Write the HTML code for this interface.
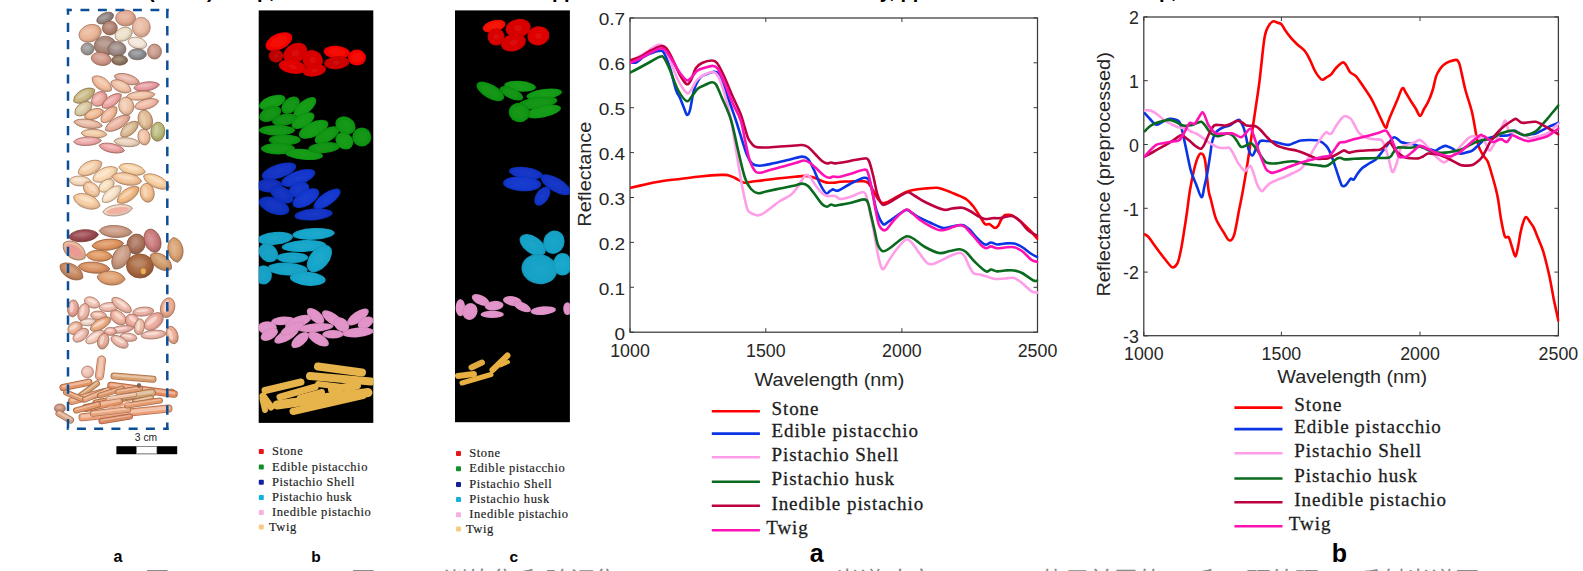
<!DOCTYPE html>
<html lang="zh"><head><meta charset="utf-8"><title>Figure</title>
<style>
html,body{margin:0;padding:0;background:#fff;}
body{width:1583px;height:571px;overflow:hidden;position:relative;}
svg{display:block;position:absolute;left:0;top:0;}
</style></head><body>
<svg width="1583" height="571" viewBox="0 0 1583 571">
<defs>
<filter id="blur1" x="-5%" y="-5%" width="110%" height="110%"><feGaussianBlur stdDeviation="0.45"/></filter>
<radialGradient id="g0" cx="0.45" cy="0.4" r="0.62"><stop offset="0" stop-color="#a79f9e"/><stop offset="0.6" stop-color="#8e8482"/><stop offset="1" stop-color="#726a68"/></radialGradient>
<radialGradient id="g1" cx="0.45" cy="0.4" r="0.62"><stop offset="0" stop-color="#e7bba8"/><stop offset="0.6" stop-color="#e0a890"/><stop offset="1" stop-color="#b38673"/></radialGradient>
<radialGradient id="g2" cx="0.45" cy="0.4" r="0.62"><stop offset="0" stop-color="#c19c8f"/><stop offset="0.6" stop-color="#b08070"/><stop offset="1" stop-color="#8d665a"/></radialGradient>
<radialGradient id="g3" cx="0.45" cy="0.4" r="0.62"><stop offset="0" stop-color="#efc4ad"/><stop offset="0.6" stop-color="#eab496"/><stop offset="1" stop-color="#bb9078"/></radialGradient>
<radialGradient id="g4" cx="0.45" cy="0.4" r="0.62"><stop offset="0" stop-color="#edc8b5"/><stop offset="0.6" stop-color="#e8b8a0"/><stop offset="1" stop-color="#ba9380"/></radialGradient>
<radialGradient id="g5" cx="0.45" cy="0.4" r="0.62"><stop offset="0" stop-color="#f0e7d4"/><stop offset="0.6" stop-color="#ece0c8"/><stop offset="1" stop-color="#bdb3a0"/></radialGradient>
<radialGradient id="g6" cx="0.45" cy="0.4" r="0.62"><stop offset="0" stop-color="#f6ece1"/><stop offset="0.6" stop-color="#f4e6d8"/><stop offset="1" stop-color="#c3b8ad"/></radialGradient>
<radialGradient id="g7" cx="0.45" cy="0.4" r="0.62"><stop offset="0" stop-color="#bba197"/><stop offset="0.6" stop-color="#a8877a"/><stop offset="1" stop-color="#866c62"/></radialGradient>
<radialGradient id="g8" cx="0.45" cy="0.4" r="0.62"><stop offset="0" stop-color="#b2a4a1"/><stop offset="0.6" stop-color="#9c8a86"/><stop offset="1" stop-color="#7d6e6b"/></radialGradient>
<radialGradient id="g9" cx="0.45" cy="0.4" r="0.62"><stop offset="0" stop-color="#b0afad"/><stop offset="0.6" stop-color="#9a9896"/><stop offset="1" stop-color="#7b7a78"/></radialGradient>
<radialGradient id="g10" cx="0.45" cy="0.4" r="0.62"><stop offset="0" stop-color="#daafa2"/><stop offset="0.6" stop-color="#d09888"/><stop offset="1" stop-color="#a67a6d"/></radialGradient>
<radialGradient id="g11" cx="0.45" cy="0.4" r="0.62"><stop offset="0" stop-color="#a79383"/><stop offset="0.6" stop-color="#8e7460"/><stop offset="1" stop-color="#725d4d"/></radialGradient>
<radialGradient id="g12" cx="0.45" cy="0.4" r="0.62"><stop offset="0" stop-color="#a4a5a8"/><stop offset="0.6" stop-color="#8a8c90"/><stop offset="1" stop-color="#6e7073"/></radialGradient>
<radialGradient id="g13" cx="0.45" cy="0.4" r="0.62"><stop offset="0" stop-color="#d4afa2"/><stop offset="0.6" stop-color="#c89888"/><stop offset="1" stop-color="#a07a6d"/></radialGradient>
<radialGradient id="g14" cx="0.45" cy="0.4" r="0.62"><stop offset="0" stop-color="#f3cbb2"/><stop offset="0.6" stop-color="#f0bc9c"/><stop offset="1" stop-color="#c0967d"/></radialGradient>
<radialGradient id="g15" cx="0.45" cy="0.4" r="0.62"><stop offset="0" stop-color="#edc1b5"/><stop offset="0.6" stop-color="#e8b0a0"/><stop offset="1" stop-color="#ba8d80"/></radialGradient>
<radialGradient id="g16" cx="0.45" cy="0.4" r="0.62"><stop offset="0" stop-color="#f3ceb8"/><stop offset="0.6" stop-color="#f0c0a4"/><stop offset="1" stop-color="#c09a83"/></radialGradient>
<radialGradient id="g17" cx="0.45" cy="0.4" r="0.62"><stop offset="0" stop-color="#edb0b5"/><stop offset="0.6" stop-color="#e89aa0"/><stop offset="1" stop-color="#ba7b80"/></radialGradient>
<radialGradient id="g18" cx="0.45" cy="0.4" r="0.62"><stop offset="0" stop-color="#d4c89c"/><stop offset="0.6" stop-color="#c8b880"/><stop offset="1" stop-color="#a09366"/></radialGradient>
<radialGradient id="g19" cx="0.45" cy="0.4" r="0.62"><stop offset="0" stop-color="#f0bbb5"/><stop offset="0.6" stop-color="#eca8a0"/><stop offset="1" stop-color="#bd8680"/></radialGradient>
<radialGradient id="g20" cx="0.45" cy="0.4" r="0.62"><stop offset="0" stop-color="#f0b8b5"/><stop offset="0.6" stop-color="#eca4a0"/><stop offset="1" stop-color="#bd8380"/></radialGradient>
<radialGradient id="g21" cx="0.45" cy="0.4" r="0.62"><stop offset="0" stop-color="#f3ceb5"/><stop offset="0.6" stop-color="#f0c0a0"/><stop offset="1" stop-color="#c09a80"/></radialGradient>
<radialGradient id="g22" cx="0.45" cy="0.4" r="0.62"><stop offset="0" stop-color="#f3d1bb"/><stop offset="0.6" stop-color="#f0c4a8"/><stop offset="1" stop-color="#c09d86"/></radialGradient>
<radialGradient id="g23" cx="0.45" cy="0.4" r="0.62"><stop offset="0" stop-color="#f3c8b8"/><stop offset="0.6" stop-color="#f0b8a4"/><stop offset="1" stop-color="#c09383"/></radialGradient>
<radialGradient id="g24" cx="0.45" cy="0.4" r="0.62"><stop offset="0" stop-color="#e1d4b5"/><stop offset="0.6" stop-color="#d8c8a0"/><stop offset="1" stop-color="#ada080"/></radialGradient>
<radialGradient id="g25" cx="0.45" cy="0.4" r="0.62"><stop offset="0" stop-color="#f3c8a8"/><stop offset="0.6" stop-color="#f0b890"/><stop offset="1" stop-color="#c09373"/></radialGradient>
<radialGradient id="g26" cx="0.45" cy="0.4" r="0.62"><stop offset="0" stop-color="#f3c8af"/><stop offset="0.6" stop-color="#f0b898"/><stop offset="1" stop-color="#c0937a"/></radialGradient>
<radialGradient id="g27" cx="0.45" cy="0.4" r="0.62"><stop offset="0" stop-color="#edc1b2"/><stop offset="0.6" stop-color="#e8b09c"/><stop offset="1" stop-color="#ba8d7d"/></radialGradient>
<radialGradient id="g28" cx="0.45" cy="0.4" r="0.62"><stop offset="0" stop-color="#e7c8a8"/><stop offset="0.6" stop-color="#e0b890"/><stop offset="1" stop-color="#b39373"/></radialGradient>
<radialGradient id="g29" cx="0.45" cy="0.4" r="0.62"><stop offset="0" stop-color="#e1c8a8"/><stop offset="0.6" stop-color="#d8b890"/><stop offset="1" stop-color="#ad9373"/></radialGradient>
<radialGradient id="g30" cx="0.45" cy="0.4" r="0.62"><stop offset="0" stop-color="#f3d4b5"/><stop offset="0.6" stop-color="#f0c8a0"/><stop offset="1" stop-color="#c0a080"/></radialGradient>
<radialGradient id="g31" cx="0.45" cy="0.4" r="0.62"><stop offset="0" stop-color="#c8c896"/><stop offset="0.6" stop-color="#b8b878"/><stop offset="1" stop-color="#939360"/></radialGradient>
<radialGradient id="g32" cx="0.45" cy="0.4" r="0.62"><stop offset="0" stop-color="#f0bbbb"/><stop offset="0.6" stop-color="#eca8a8"/><stop offset="1" stop-color="#bd8686"/></radialGradient>
<radialGradient id="g33" cx="0.45" cy="0.4" r="0.62"><stop offset="0" stop-color="#eddac8"/><stop offset="0.6" stop-color="#e8d0b8"/><stop offset="1" stop-color="#baa693"/></radialGradient>
<radialGradient id="g34" cx="0.45" cy="0.4" r="0.62"><stop offset="0" stop-color="#f0b5b5"/><stop offset="0.6" stop-color="#eca0a0"/><stop offset="1" stop-color="#bd8080"/></radialGradient>
<radialGradient id="g35" cx="0.45" cy="0.4" r="0.62"><stop offset="0" stop-color="#f6d7b8"/><stop offset="0.6" stop-color="#f4cca4"/><stop offset="1" stop-color="#c3a383"/></radialGradient>
<radialGradient id="g36" cx="0.45" cy="0.4" r="0.62"><stop offset="0" stop-color="#fae1c1"/><stop offset="0.6" stop-color="#f8d8b0"/><stop offset="1" stop-color="#c6ad8d"/></radialGradient>
<radialGradient id="g37" cx="0.45" cy="0.4" r="0.62"><stop offset="0" stop-color="#f8dab5"/><stop offset="0.6" stop-color="#f6cfa0"/><stop offset="1" stop-color="#c5a680"/></radialGradient>
<radialGradient id="g38" cx="0.45" cy="0.4" r="0.62"><stop offset="0" stop-color="#f6e1c8"/><stop offset="0.6" stop-color="#f4d8b8"/><stop offset="1" stop-color="#c3ad93"/></radialGradient>
<radialGradient id="g39" cx="0.45" cy="0.4" r="0.62"><stop offset="0" stop-color="#f6d1af"/><stop offset="0.6" stop-color="#f4c498"/><stop offset="1" stop-color="#c39d7a"/></radialGradient>
<radialGradient id="g40" cx="0.45" cy="0.4" r="0.62"><stop offset="0" stop-color="#f8d7b2"/><stop offset="0.6" stop-color="#f6cc9c"/><stop offset="1" stop-color="#c5a37d"/></radialGradient>
<radialGradient id="g41" cx="0.45" cy="0.4" r="0.62"><stop offset="0" stop-color="#f6d4b5"/><stop offset="0.6" stop-color="#f4c8a0"/><stop offset="1" stop-color="#c3a080"/></radialGradient>
<radialGradient id="g42" cx="0.45" cy="0.4" r="0.62"><stop offset="0" stop-color="#f8e4c8"/><stop offset="0.6" stop-color="#f6dcb8"/><stop offset="1" stop-color="#c5b093"/></radialGradient>
<radialGradient id="g43" cx="0.45" cy="0.4" r="0.62"><stop offset="0" stop-color="#f8e7d1"/><stop offset="0.6" stop-color="#f6e0c4"/><stop offset="1" stop-color="#c5b39d"/></radialGradient>
<radialGradient id="g44" cx="0.45" cy="0.4" r="0.62"><stop offset="0" stop-color="#f3c89c"/><stop offset="0.6" stop-color="#f0b880"/><stop offset="1" stop-color="#c09366"/></radialGradient>
<radialGradient id="g45" cx="0.45" cy="0.4" r="0.62"><stop offset="0" stop-color="#f5cea8"/><stop offset="0.6" stop-color="#f2c090"/><stop offset="1" stop-color="#c29a73"/></radialGradient>
<radialGradient id="g46" cx="0.45" cy="0.4" r="0.62"><stop offset="0" stop-color="#f8d7b5"/><stop offset="0.6" stop-color="#f6cca0"/><stop offset="1" stop-color="#c5a380"/></radialGradient>
<radialGradient id="g47" cx="0.45" cy="0.4" r="0.62"><stop offset="0" stop-color="#f3e4d4"/><stop offset="0.6" stop-color="#f0dcc8"/><stop offset="1" stop-color="#c0b0a0"/></radialGradient>
<radialGradient id="g48" cx="0.45" cy="0.4" r="0.62"><stop offset="0" stop-color="#d4af9c"/><stop offset="0.6" stop-color="#c89880"/><stop offset="1" stop-color="#a07a66"/></radialGradient>
<radialGradient id="g49" cx="0.45" cy="0.4" r="0.62"><stop offset="0" stop-color="#b07076"/><stop offset="0.6" stop-color="#9a4850"/><stop offset="1" stop-color="#7b3a40"/></radialGradient>
<radialGradient id="g50" cx="0.45" cy="0.4" r="0.62"><stop offset="0" stop-color="#e4aa80"/><stop offset="0.6" stop-color="#dc925c"/><stop offset="1" stop-color="#b0754a"/></radialGradient>
<radialGradient id="g51" cx="0.45" cy="0.4" r="0.62"><stop offset="0" stop-color="#bb8f7d"/><stop offset="0.6" stop-color="#a87058"/><stop offset="1" stop-color="#865a46"/></radialGradient>
<radialGradient id="g52" cx="0.45" cy="0.4" r="0.62"><stop offset="0" stop-color="#d49696"/><stop offset="0.6" stop-color="#c87878"/><stop offset="1" stop-color="#a06060"/></radialGradient>
<radialGradient id="g53" cx="0.45" cy="0.4" r="0.62"><stop offset="0" stop-color="#edc8af"/><stop offset="0.6" stop-color="#e8b898"/><stop offset="1" stop-color="#ba937a"/></radialGradient>
<radialGradient id="g54" cx="0.45" cy="0.4" r="0.62"><stop offset="0" stop-color="#e7af83"/><stop offset="0.6" stop-color="#e09860"/><stop offset="1" stop-color="#b37a4d"/></radialGradient>
<radialGradient id="g55" cx="0.45" cy="0.4" r="0.62"><stop offset="0" stop-color="#e1b58f"/><stop offset="0.6" stop-color="#d8a070"/><stop offset="1" stop-color="#ad805a"/></radialGradient>
<radialGradient id="g56" cx="0.45" cy="0.4" r="0.62"><stop offset="0" stop-color="#bb896a"/><stop offset="0.6" stop-color="#a86840"/><stop offset="1" stop-color="#865333"/></radialGradient>
<radialGradient id="g57" cx="0.45" cy="0.4" r="0.62"><stop offset="0" stop-color="#daaf89"/><stop offset="0.6" stop-color="#d09868"/><stop offset="1" stop-color="#a67a53"/></radialGradient>
<radialGradient id="g58" cx="0.45" cy="0.4" r="0.62"><stop offset="0" stop-color="#e1a883"/><stop offset="0.6" stop-color="#d89060"/><stop offset="1" stop-color="#ad734d"/></radialGradient>
<radialGradient id="g59" cx="0.45" cy="0.4" r="0.62"><stop offset="0" stop-color="#d4a283"/><stop offset="0.6" stop-color="#c88860"/><stop offset="1" stop-color="#a06d4d"/></radialGradient>
<radialGradient id="g60" cx="0.45" cy="0.4" r="0.62"><stop offset="0" stop-color="#e7b58f"/><stop offset="0.6" stop-color="#e0a070"/><stop offset="1" stop-color="#b3805a"/></radialGradient>
<radialGradient id="g61" cx="0.45" cy="0.4" r="0.62"><stop offset="0" stop-color="#f3cfc1"/><stop offset="0.6" stop-color="#f0c1af"/><stop offset="1" stop-color="#c09a8c"/></radialGradient>
<radialGradient id="g62" cx="0.45" cy="0.4" r="0.62"><stop offset="0" stop-color="#eab8ad"/><stop offset="0.6" stop-color="#e4a496"/><stop offset="1" stop-color="#b68378"/></radialGradient>
<radialGradient id="g63" cx="0.45" cy="0.4" r="0.62"><stop offset="0" stop-color="#efc3b8"/><stop offset="0.6" stop-color="#ebb2a4"/><stop offset="1" stop-color="#bc8e83"/></radialGradient>
<radialGradient id="g64" cx="0.45" cy="0.4" r="0.62"><stop offset="0" stop-color="#f2c8bd"/><stop offset="0.6" stop-color="#eeb9ab"/><stop offset="1" stop-color="#be9489"/></radialGradient>
<radialGradient id="g65" cx="0.45" cy="0.4" r="0.62"><stop offset="0" stop-color="#f2c8bb"/><stop offset="0.6" stop-color="#eeb9a8"/><stop offset="1" stop-color="#be9486"/></radialGradient>
<radialGradient id="g66" cx="0.45" cy="0.4" r="0.62"><stop offset="0" stop-color="#efbda8"/><stop offset="0.6" stop-color="#ebab8f"/><stop offset="1" stop-color="#bc8972"/></radialGradient>
<radialGradient id="g67" cx="0.45" cy="0.4" r="0.62"><stop offset="0" stop-color="#efc3b3"/><stop offset="0.6" stop-color="#ebb29d"/><stop offset="1" stop-color="#bc8e7e"/></radialGradient>
<radialGradient id="g68" cx="0.45" cy="0.4" r="0.62"><stop offset="0" stop-color="#f2c3b3"/><stop offset="0.6" stop-color="#eeb29d"/><stop offset="1" stop-color="#be8e7e"/></radialGradient>
<radialGradient id="g69" cx="0.45" cy="0.4" r="0.62"><stop offset="0" stop-color="#efdacf"/><stop offset="0.6" stop-color="#ebcfc1"/><stop offset="1" stop-color="#bca69a"/></radialGradient>
<radialGradient id="g70" cx="0.45" cy="0.4" r="0.62"><stop offset="0" stop-color="#efbd9d"/><stop offset="0.6" stop-color="#ebab81"/><stop offset="1" stop-color="#bc8967"/></radialGradient>
<radialGradient id="g71" cx="0.45" cy="0.4" r="0.62"><stop offset="0" stop-color="#efbdb3"/><stop offset="0.6" stop-color="#ebab9d"/><stop offset="1" stop-color="#bc897e"/></radialGradient>
<radialGradient id="g72" cx="0.45" cy="0.4" r="0.62"><stop offset="0" stop-color="#efc8b8"/><stop offset="0.6" stop-color="#ebb9a4"/><stop offset="1" stop-color="#bc9483"/></radialGradient>
<radialGradient id="g73" cx="0.45" cy="0.4" r="0.62"><stop offset="0" stop-color="#efc3ad"/><stop offset="0.6" stop-color="#ebb296"/><stop offset="1" stop-color="#bc8e78"/></radialGradient>
<radialGradient id="g74" cx="0.45" cy="0.4" r="0.62"><stop offset="0" stop-color="#efc3bd"/><stop offset="0.6" stop-color="#ebb2ab"/><stop offset="1" stop-color="#bc8e89"/></radialGradient>
<radialGradient id="g75" cx="0.45" cy="0.4" r="0.62"><stop offset="0" stop-color="#f5d4c8"/><stop offset="0.6" stop-color="#f2c8b9"/><stop offset="1" stop-color="#c2a094"/></radialGradient>
<radialGradient id="g76" cx="0.45" cy="0.4" r="0.62"><stop offset="0" stop-color="#efc8bd"/><stop offset="0.6" stop-color="#ebb9ab"/><stop offset="1" stop-color="#bc9489"/></radialGradient>
<radialGradient id="g77" cx="0.45" cy="0.4" r="0.62"><stop offset="0" stop-color="#eabdad"/><stop offset="0.6" stop-color="#e4ab96"/><stop offset="1" stop-color="#b68978"/></radialGradient>
<radialGradient id="g78" cx="0.45" cy="0.4" r="0.62"><stop offset="0" stop-color="#f3cec1"/><stop offset="0.6" stop-color="#f0c0b0"/><stop offset="1" stop-color="#c09a8d"/></radialGradient>
<radialGradient id="g79" cx="0.45" cy="0.4" r="0.62"><stop offset="0" stop-color="#d4a896"/><stop offset="0.6" stop-color="#c89078"/><stop offset="1" stop-color="#a07360"/></radialGradient>
<radialGradient id="g80" cx="0.45" cy="0.4" r="0.62"><stop offset="0" stop-color="#eaaa86"/><stop offset="0.6" stop-color="#e49264"/><stop offset="1" stop-color="#b67550"/></radialGradient>
<radialGradient id="g81" cx="0.5" cy="0.5" r="0.6"><stop offset="0" stop-color="#f50e0a"/><stop offset="0.7" stop-color="#f50400"/><stop offset="1" stop-color="#bf0300"/></radialGradient>
<radialGradient id="g82" cx="0.5" cy="0.5" r="0.6"><stop offset="0" stop-color="#bf0a0a"/><stop offset="0.7" stop-color="#bc0000"/><stop offset="1" stop-color="#930000"/></radialGradient>
<radialGradient id="g83" cx="0.5" cy="0.5" r="0.6"><stop offset="0" stop-color="#d90a0a"/><stop offset="0.7" stop-color="#d70000"/><stop offset="1" stop-color="#a80000"/></radialGradient>
<radialGradient id="g84" cx="0.5" cy="0.5" r="0.6"><stop offset="0" stop-color="#e20a0a"/><stop offset="0.7" stop-color="#e10000"/><stop offset="1" stop-color="#b00000"/></radialGradient>
<radialGradient id="g85" cx="0.5" cy="0.5" r="0.6"><stop offset="0" stop-color="#db0a0a"/><stop offset="0.7" stop-color="#d90000"/><stop offset="1" stop-color="#a90000"/></radialGradient>
<radialGradient id="g86" cx="0.5" cy="0.5" r="0.6"><stop offset="0" stop-color="#ce0a0a"/><stop offset="0.7" stop-color="#cc0000"/><stop offset="1" stop-color="#9f0000"/></radialGradient>
<radialGradient id="g87" cx="0.5" cy="0.5" r="0.6"><stop offset="0" stop-color="#1b9e1c"/><stop offset="0.7" stop-color="#119a13"/><stop offset="1" stop-color="#0d780f"/></radialGradient>
<radialGradient id="g88" cx="0.5" cy="0.5" r="0.6"><stop offset="0" stop-color="#19961b"/><stop offset="0.7" stop-color="#0f9211"/><stop offset="1" stop-color="#0c720d"/></radialGradient>
<radialGradient id="g89" cx="0.5" cy="0.5" r="0.6"><stop offset="0" stop-color="#19981b"/><stop offset="0.7" stop-color="#0f9411"/><stop offset="1" stop-color="#0c730d"/></radialGradient>
<radialGradient id="g90" cx="0.5" cy="0.5" r="0.6"><stop offset="0" stop-color="#18941a"/><stop offset="0.7" stop-color="#0e9010"/><stop offset="1" stop-color="#0b700c"/></radialGradient>
<radialGradient id="g91" cx="0.5" cy="0.5" r="0.6"><stop offset="0" stop-color="#1a9a1b"/><stop offset="0.7" stop-color="#109612"/><stop offset="1" stop-color="#0c750e"/></radialGradient>
<radialGradient id="g92" cx="0.5" cy="0.5" r="0.6"><stop offset="0" stop-color="#1b3ac6"/><stop offset="0.7" stop-color="#1132c4"/><stop offset="1" stop-color="#0d2799"/></radialGradient>
<radialGradient id="g93" cx="0.5" cy="0.5" r="0.6"><stop offset="0" stop-color="#1b3ccc"/><stop offset="0.7" stop-color="#1134ca"/><stop offset="1" stop-color="#0d299e"/></radialGradient>
<radialGradient id="g94" cx="0.5" cy="0.5" r="0.6"><stop offset="0" stop-color="#1936bf"/><stop offset="0.7" stop-color="#0f2ebc"/><stop offset="1" stop-color="#0c2493"/></radialGradient>
<radialGradient id="g95" cx="0.5" cy="0.5" r="0.6"><stop offset="0" stop-color="#1938c3"/><stop offset="0.7" stop-color="#0f30c0"/><stop offset="1" stop-color="#0c2596"/></radialGradient>
<radialGradient id="g96" cx="0.5" cy="0.5" r="0.6"><stop offset="0" stop-color="#1b3cca"/><stop offset="0.7" stop-color="#1134c8"/><stop offset="1" stop-color="#0d299c"/></radialGradient>
<radialGradient id="g97" cx="0.5" cy="0.5" r="0.6"><stop offset="0" stop-color="#1b3ecf"/><stop offset="0.7" stop-color="#1136cd"/><stop offset="1" stop-color="#0d2aa0"/></radialGradient>
<radialGradient id="g98" cx="0.5" cy="0.5" r="0.6"><stop offset="0" stop-color="#1ea9cc"/><stop offset="0.7" stop-color="#15a5ca"/><stop offset="1" stop-color="#10819e"/></radialGradient>
<radialGradient id="g99" cx="0.5" cy="0.5" r="0.6"><stop offset="0" stop-color="#1ca5c8"/><stop offset="0.7" stop-color="#13a1c6"/><stop offset="1" stop-color="#0f7e9a"/></radialGradient>
<radialGradient id="g100" cx="0.5" cy="0.5" r="0.6"><stop offset="0" stop-color="#1ca3c6"/><stop offset="0.7" stop-color="#139fc4"/><stop offset="1" stop-color="#0f7c99"/></radialGradient>
<radialGradient id="g101" cx="0.5" cy="0.5" r="0.6"><stop offset="0" stop-color="#e296ca"/><stop offset="0.7" stop-color="#e192c8"/><stop offset="1" stop-color="#b0729c"/></radialGradient>
<radialGradient id="g102" cx="0.5" cy="0.5" r="0.6"><stop offset="0" stop-color="#f5190a"/><stop offset="0.7" stop-color="#f50f00"/><stop offset="1" stop-color="#bf0c00"/></radialGradient>
<radialGradient id="g103" cx="0.5" cy="0.5" r="0.6"><stop offset="0" stop-color="#e00a0a"/><stop offset="0.7" stop-color="#df0000"/><stop offset="1" stop-color="#ae0000"/></radialGradient>
<radialGradient id="g104" cx="0.5" cy="0.5" r="0.6"><stop offset="0" stop-color="#1b3ece"/><stop offset="0.7" stop-color="#1136cc"/><stop offset="1" stop-color="#0d2a9f"/></radialGradient>
</defs>
<rect x="0" y="0" width="1583" height="571" fill="#fff"/>
<g font-family="'Liberation Sans', sans-serif" font-weight="bold" font-size="20" fill="#000">
<text x="148" y="-2.2">(Color)</text>
<text x="228" y="-2.2">map,</text>
<text x="523" y="-2.2">mapped</text>
<text x="793" y="-2.2">Chemistry, pp. 101</text>
<text x="1130" y="-2.2">map,</text>
</g>
<g filter="url(#blur1)">
<g transform="translate(105.2 18.1) rotate(-25)"><ellipse rx="9" ry="5" fill="url(#g0)" stroke="#78584c" stroke-width="0.7"/><ellipse cx="-0.9" cy="-1.2" rx="5.4" ry="1.6" fill="#aaa3a1" opacity="0.5"/></g>
<g transform="translate(125.6 18.1) rotate(0)"><ellipse rx="10" ry="8" fill="url(#g1)" stroke="#9e6952" stroke-width="0.7"/><ellipse cx="-1" cy="-2" rx="6" ry="2.6" fill="#e8beac" opacity="0.5"/></g>
<g transform="translate(109.8 28) rotate(0)"><ellipse rx="7.5" ry="7" fill="url(#g2)" stroke="#885644" stroke-width="0.7"/><ellipse cx="-0.8" cy="-1.8" rx="4.5" ry="2.2" fill="#c4a094" opacity="0.5"/></g>
<g transform="translate(90.1 33.3) rotate(-20)"><ellipse rx="11.5" ry="8.5" fill="url(#g3)" stroke="#a36e55" stroke-width="0.7"/><ellipse cx="-1.2" cy="-2.1" rx="6.9" ry="2.7" fill="#efc7b0" opacity="0.5"/></g>
<g transform="translate(141.3 27.3) rotate(0)"><ellipse rx="9" ry="10" fill="url(#g4)" stroke="#a1705a" stroke-width="0.7"/><ellipse cx="-2.2" cy="-1" rx="2.9" ry="6" fill="#eecab8" opacity="0.5"/></g>
<g transform="translate(123.6 34.2) rotate(-25)"><ellipse rx="9" ry="6.5" fill="url(#g5)" stroke="#a3826c" stroke-width="0.7"/><ellipse cx="-0.9" cy="-1.6" rx="5.4" ry="2.1" fill="#f1e8d6" opacity="0.5"/></g>
<g transform="translate(137.4 43.1) rotate(15)"><ellipse rx="9.5" ry="5.5" fill="url(#g6)" stroke="#a78573" stroke-width="0.7"/><ellipse cx="-1" cy="-1.4" rx="5.7" ry="1.8" fill="#f7ece2" opacity="0.5"/></g>
<g transform="translate(105.2 45.7) rotate(0)"><ellipse rx="11" ry="9.5" fill="url(#g7)" stroke="#855948" stroke-width="0.7"/><ellipse cx="-1.1" cy="-2.4" rx="6.6" ry="3" fill="#bea59b" opacity="0.5"/></g>
<g transform="translate(117 49) rotate(0)"><ellipse rx="9" ry="7.5" fill="url(#g8)" stroke="#7f5b4e" stroke-width="0.7"/><ellipse cx="-0.9" cy="-1.9" rx="5.4" ry="2.4" fill="#b5a7a4" opacity="0.5"/></g>
<g transform="translate(87.5 49) rotate(0)"><ellipse rx="6.5" ry="6" fill="url(#g9)" stroke="#7e6155" stroke-width="0.7"/><ellipse cx="-0.7" cy="-1.5" rx="3.9" ry="1.9" fill="#b3b2b0" opacity="0.5"/></g>
<g transform="translate(101.2 58.9) rotate(10)"><ellipse rx="10" ry="6.5" fill="url(#g10)" stroke="#97614f" stroke-width="0.7"/><ellipse cx="-1" cy="-1.6" rx="6" ry="2.1" fill="#dcb2a6" opacity="0.5"/></g>
<g transform="translate(119.6 60.2) rotate(0)"><ellipse rx="8" ry="5" fill="url(#g11)" stroke="#78513c" stroke-width="0.7"/><ellipse cx="-0.8" cy="-1.2" rx="4.8" ry="1.6" fill="#aa9788" opacity="0.5"/></g>
<g transform="translate(137.4 54.3) rotate(0)"><ellipse rx="9" ry="5.5" fill="url(#g12)" stroke="#775c52" stroke-width="0.7"/><ellipse cx="-0.9" cy="-1.4" rx="5.4" ry="1.8" fill="#a7a9ac" opacity="0.5"/></g>
<g transform="translate(154.5 51.6) rotate(0)"><ellipse rx="7" ry="7.5" fill="url(#g13)" stroke="#93614f" stroke-width="0.7"/><ellipse cx="-1.8" cy="-0.8" rx="2.2" ry="4.5" fill="#d6b2a6" opacity="0.5"/></g>
<g transform="translate(101.9 83.8) rotate(35)"><path d="M-11.5 0C-8.5 -7.9 8 -7.9 11.5 0C8 7.9 -8.5 7.9 -11.5 0Z" fill="url(#g14)" stroke="#a57258" stroke-width="0.8" stroke-linejoin="round"/><ellipse cx="-1.2" cy="-1.5" rx="6.9" ry="1.9" fill="#f6d7c4" opacity="0.5"/></g>
<g transform="translate(126.9 79.2) rotate(15)"><path d="M-13 0C-9.6 -6.6 9.1 -6.6 13 0C9.1 6.6 -9.6 6.6 -13 0Z" fill="url(#g15)" stroke="#a16c5a" stroke-width="0.8" stroke-linejoin="round"/><ellipse cx="-1.3" cy="-1.2" rx="7.8" ry="1.6" fill="#f1d0c6" opacity="0.5"/></g>
<g transform="translate(121 86.4) rotate(25)"><path d="M-11 0C-8.1 -7.3 7.7 -7.3 11 0C7.7 7.3 -8.1 7.3 -11 0Z" fill="url(#g16)" stroke="#a5735c" stroke-width="0.8" stroke-linejoin="round"/><ellipse cx="-1.1" cy="-1.4" rx="6.6" ry="1.8" fill="#f6d9c8" opacity="0.5"/></g>
<g transform="translate(146.6 86.4) rotate(-8)"><path d="M-13 0C-9.6 -5.9 9.1 -5.9 13 0C9.1 5.9 -9.6 5.9 -13 0Z" fill="url(#g17)" stroke="#a1625a" stroke-width="0.8" stroke-linejoin="round"/><ellipse cx="-1.3" cy="-1.1" rx="7.8" ry="1.4" fill="#f1c2c6" opacity="0.5"/></g>
<g transform="translate(84.2 95.6) rotate(-30)"><path d="M-12 0C-8.9 -7.9 8.4 -7.9 12 0C8.4 7.9 -8.9 7.9 -12 0Z" fill="url(#g18)" stroke="#93704b" stroke-width="0.8" stroke-linejoin="round"/><ellipse cx="-1.2" cy="-1.5" rx="7.2" ry="1.9" fill="#ded4b3" opacity="0.5"/></g>
<g transform="translate(99.3 98.9) rotate(-40)"><ellipse rx="8.5" ry="6.5" fill="url(#g19)" stroke="#a3695a" stroke-width="0.8"/><ellipse cx="-0.9" cy="-1.6" rx="5.1" ry="2.1" fill="#f4cbc6" opacity="0.5"/></g>
<g transform="translate(111.8 100.9) rotate(-35)"><path d="M-11.5 0C-8.5 -6.6 8 -6.6 11.5 0C8 6.6 -8.5 6.6 -11.5 0Z" fill="url(#g20)" stroke="#a3675a" stroke-width="0.8" stroke-linejoin="round"/><ellipse cx="-1.2" cy="-1.2" rx="6.9" ry="1.6" fill="#f4c8c6" opacity="0.5"/></g>
<g transform="translate(140.7 95.6) rotate(-5)"><path d="M-14.5 0C-10.7 -5.9 10.1 -5.9 14.5 0C10.1 5.9 -10.7 5.9 -14.5 0Z" fill="url(#g21)" stroke="#a5735a" stroke-width="0.8" stroke-linejoin="round"/><ellipse cx="-1.5" cy="-1.1" rx="8.7" ry="1.4" fill="#f6d9c6" opacity="0.5"/></g>
<g transform="translate(126.2 106.1) rotate(-10)"><ellipse rx="7.5" ry="9" fill="url(#g22)" stroke="#a5755e" stroke-width="0.8"/><ellipse cx="-1.9" cy="-0.9" rx="2.4" ry="5.4" fill="#f6dccb" opacity="0.5"/></g>
<g transform="translate(146.6 104.1) rotate(-15)"><path d="M-12.5 0C-9.2 -6.6 8.8 -6.6 12.5 0C8.8 6.6 -9.2 6.6 -12.5 0Z" fill="url(#g23)" stroke="#a5705c" stroke-width="0.8" stroke-linejoin="round"/><ellipse cx="-1.2" cy="-1.2" rx="7.5" ry="1.6" fill="#f6d4c8" opacity="0.5"/></g>
<g transform="translate(83.5 108.7) rotate(-35)"><path d="M-10 0C-7.4 -7.9 7 -7.9 10 0C7 7.9 -7.4 7.9 -10 0Z" fill="url(#g24)" stroke="#9a775a" stroke-width="0.8" stroke-linejoin="round"/><ellipse cx="-1" cy="-1.5" rx="6" ry="1.9" fill="#e8dec6" opacity="0.5"/></g>
<g transform="translate(94 114) rotate(-20)"><path d="M-10 0C-7.4 -6.6 7 -6.6 10 0C7 6.6 -7.4 6.6 -10 0Z" fill="url(#g25)" stroke="#a57052" stroke-width="0.8" stroke-linejoin="round"/><ellipse cx="-1" cy="-1.2" rx="6" ry="1.6" fill="#f6d4bc" opacity="0.5"/></g>
<g transform="translate(109.1 114.6) rotate(-45)"><path d="M-10.5 0C-7.8 -7.3 7.3 -7.3 10.5 0C7.3 7.3 -7.8 7.3 -10.5 0Z" fill="url(#g26)" stroke="#a57056" stroke-width="0.8" stroke-linejoin="round"/><ellipse cx="-1.1" cy="-1.4" rx="6.3" ry="1.8" fill="#f6d4c1" opacity="0.5"/></g>
<g transform="translate(88.1 123.8) rotate(8)"><path d="M-14.5 0C-10.7 -5.9 10.1 -5.9 14.5 0C10.1 5.9 -10.7 5.9 -14.5 0Z" fill="url(#g4)" stroke="#a1705a" stroke-width="0.8" stroke-linejoin="round"/><ellipse cx="-1.5" cy="-1.1" rx="8.7" ry="1.4" fill="#f1d4c6" opacity="0.5"/></g>
<g transform="translate(117.7 123.2) rotate(-30)"><path d="M-14 0C-10.4 -7.3 9.8 -7.3 14 0C9.8 7.3 -10.4 7.3 -14 0Z" fill="url(#g27)" stroke="#a16c58" stroke-width="0.8" stroke-linejoin="round"/><ellipse cx="-1.4" cy="-1.4" rx="8.4" ry="1.8" fill="#f1d0c4" opacity="0.5"/></g>
<g transform="translate(145.3 119.9) rotate(-15)"><ellipse rx="7" ry="10" fill="url(#g28)" stroke="#9e7052" stroke-width="0.8"/><ellipse cx="-1.8" cy="-1" rx="2.2" ry="6" fill="#ecd4bc" opacity="0.5"/></g>
<g transform="translate(129.5 129.1) rotate(-40)"><path d="M-11 0C-8.1 -7.3 7.7 -7.3 11 0C7.7 7.3 -8.1 7.3 -11 0Z" fill="url(#g29)" stroke="#9a7052" stroke-width="0.8" stroke-linejoin="round"/><ellipse cx="-1.1" cy="-1.4" rx="6.6" ry="1.8" fill="#e8d4bc" opacity="0.5"/></g>
<g transform="translate(94 133.7) rotate(3)"><path d="M-13 0C-9.6 -5.9 9.1 -5.9 13 0C9.1 5.9 -9.6 5.9 -13 0Z" fill="url(#g30)" stroke="#a5775a" stroke-width="0.8" stroke-linejoin="round"/><ellipse cx="-1.3" cy="-1.1" rx="7.8" ry="1.4" fill="#f6dec6" opacity="0.5"/></g>
<g transform="translate(157.8 131.7) rotate(5)"><ellipse rx="7" ry="9.5" fill="url(#g31)" stroke="#8c7047" stroke-width="0.8"/><ellipse cx="-1.8" cy="-1" rx="2.2" ry="5.7" fill="#d4d4ae" opacity="0.5"/></g>
<g transform="translate(144 137) rotate(-10)"><ellipse rx="6" ry="8" fill="url(#g21)" stroke="#a5735a" stroke-width="0.8"/><ellipse cx="-1.5" cy="-0.8" rx="1.9" ry="4.8" fill="#f6d9c6" opacity="0.5"/></g>
<g transform="translate(87.5 141.2) rotate(-3)"><path d="M-14 0C-10.4 -5.7 9.8 -5.7 14 0C9.8 5.7 -10.4 5.7 -14 0Z" fill="url(#g32)" stroke="#a3695e" stroke-width="0.8" stroke-linejoin="round"/><ellipse cx="-1.4" cy="-1.1" rx="8.4" ry="1.4" fill="#f4cbcb" opacity="0.5"/></g>
<g transform="translate(126.9 142.2) rotate(5)"><path d="M-13 0C-9.6 -5.9 9.1 -5.9 13 0C9.1 5.9 -9.6 5.9 -13 0Z" fill="url(#g33)" stroke="#a17b65" stroke-width="0.8" stroke-linejoin="round"/><ellipse cx="-1.3" cy="-1.1" rx="7.8" ry="1.4" fill="#f1e3d4" opacity="0.5"/></g>
<g transform="translate(111.8 148.1) rotate(12)"><path d="M-13 0C-9.6 -5.9 9.1 -5.9 13 0C9.1 5.9 -9.6 5.9 -13 0Z" fill="url(#g34)" stroke="#a3655a" stroke-width="0.8" stroke-linejoin="round"/><ellipse cx="-1.3" cy="-1.1" rx="7.8" ry="1.4" fill="#f4c6c6" opacity="0.5"/></g>
<g transform="translate(90.1 167.9) rotate(-25)"><path d="M-13 0C-9.6 -8.6 9.1 -8.6 13 0C9.1 8.6 -9.6 8.6 -13 0Z" fill="url(#g35)" stroke="#af7f61" stroke-width="0.8" stroke-linejoin="round"/><ellipse cx="-1.3" cy="-1.6" rx="7.8" ry="2.1" fill="#fae6d2" opacity="0.6"/></g>
<g transform="translate(105.2 174.4) rotate(-25)"><path d="M-13.5 0C-10 -8.6 9.4 -8.6 13.5 0C9.4 8.6 -10 8.6 -13.5 0Z" fill="url(#g36)" stroke="#b18567" stroke-width="0.8" stroke-linejoin="round"/><ellipse cx="-1.4" cy="-1.6" rx="8.1" ry="2.1" fill="#fcecd8" opacity="0.6"/></g>
<g transform="translate(132.1 169.4) rotate(12)"><path d="M-13.5 0C-10 -7.3 9.4 -7.3 13.5 0C9.4 7.3 -10 7.3 -13.5 0Z" fill="url(#g37)" stroke="#b0815f" stroke-width="0.8" stroke-linejoin="round"/><ellipse cx="-1.4" cy="-1.4" rx="8.1" ry="1.8" fill="#fae7d0" opacity="0.6"/></g>
<g transform="translate(80.2 181) rotate(3)"><path d="M-11 0C-8.1 -6.6 7.7 -6.6 11 0C7.7 6.6 -8.1 6.6 -11 0Z" fill="url(#g38)" stroke="#af856a" stroke-width="0.8" stroke-linejoin="round"/><ellipse cx="-1.1" cy="-1.2" rx="6.6" ry="1.6" fill="#faecdc" opacity="0.6"/></g>
<g transform="translate(126.9 179) rotate(10)"><path d="M-15 0C-11.1 -7.9 10.5 -7.9 15 0C10.5 7.9 -11.1 7.9 -15 0Z" fill="url(#g39)" stroke="#af7c5b" stroke-width="0.8" stroke-linejoin="round"/><ellipse cx="-1.5" cy="-1.5" rx="9" ry="1.9" fill="#fae2cc" opacity="0.6"/></g>
<g transform="translate(156.4 181.6) rotate(25)"><path d="M-14 0C-10.4 -7.9 9.8 -7.9 14 0C9.8 7.9 -10.4 7.9 -14 0Z" fill="url(#g40)" stroke="#b07f5d" stroke-width="0.8" stroke-linejoin="round"/><ellipse cx="-1.4" cy="-1.5" rx="8.4" ry="1.9" fill="#fae6ce" opacity="0.6"/></g>
<g transform="translate(91.4 189.5) rotate(40)"><ellipse rx="9" ry="6.5" fill="url(#g41)" stroke="#af7e5f" stroke-width="0.8"/><ellipse cx="-0.9" cy="-1.6" rx="5.4" ry="2.1" fill="#fae4d0" opacity="0.6"/></g>
<g transform="translate(106.5 185.6) rotate(-35)"><ellipse rx="8.5" ry="5.5" fill="url(#g42)" stroke="#b0876a" stroke-width="0.8"/><ellipse cx="-0.9" cy="-1.4" rx="5.1" ry="1.8" fill="#faeedc" opacity="0.6"/></g>
<g transform="translate(111.8 194.1) rotate(-40)"><path d="M-12 0C-8.9 -7.3 8.4 -7.3 12 0C8.4 7.3 -8.9 7.3 -12 0Z" fill="url(#g43)" stroke="#b08970" stroke-width="0.8" stroke-linejoin="round"/><ellipse cx="-1.2" cy="-1.4" rx="7.2" ry="1.8" fill="#faf0e2" opacity="0.6"/></g>
<g transform="translate(128.2 194.8) rotate(-35)"><path d="M-13 0C-9.6 -7.9 9.1 -7.9 13 0C9.1 7.9 -9.6 7.9 -13 0Z" fill="url(#g44)" stroke="#ad764f" stroke-width="0.8" stroke-linejoin="round"/><ellipse cx="-1.3" cy="-1.5" rx="7.8" ry="1.9" fill="#f8dcc0" opacity="0.6"/></g>
<g transform="translate(147.2 192.8) rotate(-10)"><ellipse rx="7" ry="9.5" fill="url(#g45)" stroke="#ae7a57" stroke-width="0.8"/><ellipse cx="-1.8" cy="-1" rx="2.2" ry="5.7" fill="#f8e0c8" opacity="0.6"/></g>
<g transform="translate(86.8 201.4) rotate(20)"><path d="M-14 0C-10.4 -9.2 9.8 -9.2 14 0C9.8 9.2 -10.4 9.2 -14 0Z" fill="url(#g46)" stroke="#b07f5f" stroke-width="0.8" stroke-linejoin="round"/><ellipse cx="-1.4" cy="-1.8" rx="8.4" ry="2.2" fill="#fae6d0" opacity="0.6"/></g>
<g transform="translate(117.7 210.2) rotate(-8)"><path d="M-15 0C-11.1 -7.3 10.5 -7.3 15 0C10.5 7.3 -11.1 7.3 -15 0Z" fill="url(#g47)" stroke="#ad8772" stroke-width="0.8" stroke-linejoin="round"/><ellipse cx="-1.5" cy="-1.4" rx="9" ry="1.8" fill="#f8eee4" opacity="0.6"/></g>
<ellipse cx="117.7" cy="210.4" rx="11.5" ry="3.3" fill="#f2b0a2" transform="rotate(-8 117.7 210.4)"/>
<g transform="translate(115.7 231.5) rotate(3)"><path d="M-16.5 0C-12.2 -7.9 11.5 -7.9 16.5 0C11.5 7.9 -12.2 7.9 -16.5 0Z" fill="url(#g48)" stroke="#93614b" stroke-width="0.8" stroke-linejoin="round"/><ellipse cx="-1.7" cy="-1.5" rx="9.9" ry="1.9" fill="#d6b2a0" opacity="0.4"/></g>
<g transform="translate(83.5 235.7) rotate(-5)"><path d="M-15 0C-11.1 -7.9 10.5 -7.9 15 0C10.5 7.9 -11.1 7.9 -15 0Z" fill="url(#g49)" stroke="#7e3c35" stroke-width="0.8" stroke-linejoin="round"/><ellipse cx="-1.5" cy="-1.5" rx="9" ry="1.9" fill="#b3767c" opacity="0.4"/></g>
<g transform="translate(107.8 244.7) rotate(-5)"><path d="M-16 0C-11.8 -7.3 11.2 -7.3 16 0C11.2 7.3 -11.8 7.3 -16 0Z" fill="url(#g50)" stroke="#9c5e3a" stroke-width="0.8" stroke-linejoin="round"/><ellipse cx="-1.6" cy="-1.4" rx="9.6" ry="1.8" fill="#e5ad85" opacity="0.4"/></g>
<g transform="translate(136.1 244) rotate(20)"><ellipse rx="9" ry="10" fill="url(#g51)" stroke="#854f39" stroke-width="0.8"/><ellipse cx="-2.2" cy="-1" rx="2.9" ry="6" fill="#be9482" opacity="0.4"/></g>
<g transform="translate(152.5 240.7) rotate(-20)"><ellipse rx="8" ry="12" fill="url(#g52)" stroke="#935347" stroke-width="0.8"/><ellipse cx="-2" cy="-1.2" rx="2.6" ry="7.2" fill="#d69a9a" opacity="0.4"/></g>
<g transform="translate(74.3 250.6) rotate(35)"><path d="M-13 0C-9.6 -10.6 9.1 -10.6 13 0C9.1 10.6 -9.6 10.6 -13 0Z" fill="url(#g53)" stroke="#a17056" stroke-width="0.8" stroke-linejoin="round"/><ellipse cx="-1.3" cy="-2" rx="7.8" ry="2.6" fill="#eecab2" opacity="0.4"/></g>
<g transform="translate(99.3 255.8) rotate(3)"><path d="M-13 0C-9.6 -7.3 9.1 -7.3 13 0C9.1 7.3 -9.6 7.3 -13 0Z" fill="url(#g54)" stroke="#9e613c" stroke-width="0.8" stroke-linejoin="round"/><ellipse cx="-1.3" cy="-1.4" rx="7.8" ry="1.8" fill="#e8b288" opacity="0.4"/></g>
<g transform="translate(121 257.2) rotate(30)"><path d="M0 -13.5C-10.6 -10 -10.6 9.4 0 13.5C10.6 9.4 10.6 -10 0 -13.5Z" fill="url(#g48)" stroke="#93614b" stroke-width="0.8" stroke-linejoin="round"/><ellipse cx="-2" cy="-1.4" rx="2.6" ry="8.1" fill="#d6b2a0" opacity="0.4"/></g>
<g transform="translate(175.5 249.9) rotate(-10)"><path d="M0 -12.5C-9.9 -9.2 -9.9 8.8 0 12.5C9.9 8.8 9.9 -9.2 0 -12.5Z" fill="url(#g55)" stroke="#9a6544" stroke-width="0.8" stroke-linejoin="round"/><ellipse cx="-1.9" cy="-1.2" rx="2.4" ry="7.5" fill="#e2b894" opacity="0.4"/></g>
<g transform="translate(140 266) rotate(0)"><ellipse rx="13.5" ry="12" fill="url(#g56)" stroke="#854b2e" stroke-width="0.8"/><ellipse cx="-1.4" cy="-3" rx="8.1" ry="3.8" fill="#be8e70" opacity="0.4"/></g>
<g transform="translate(161 261.8) rotate(35)"><path d="M-12.5 0C-9.2 -9.2 8.8 -9.2 12.5 0C8.8 9.2 -9.2 9.2 -12.5 0Z" fill="url(#g57)" stroke="#976140" stroke-width="0.8" stroke-linejoin="round"/><ellipse cx="-1.2" cy="-1.8" rx="7.5" ry="2.2" fill="#dcb28e" opacity="0.4"/></g>
<g transform="translate(94 267.7) rotate(5)"><path d="M-16 0C-11.8 -7.3 11.2 -7.3 16 0C11.2 7.3 -11.8 7.3 -16 0Z" fill="url(#g58)" stroke="#9a5e3c" stroke-width="0.8" stroke-linejoin="round"/><ellipse cx="-1.6" cy="-1.4" rx="9.6" ry="1.8" fill="#e2ac88" opacity="0.4"/></g>
<g transform="translate(71.5 271.5) rotate(30)"><path d="M-13 0C-9.6 -9.2 9.1 -9.2 13 0C9.1 9.2 -9.6 9.2 -13 0Z" fill="url(#g59)" stroke="#935a3c" stroke-width="0.8" stroke-linejoin="round"/><ellipse cx="-1.3" cy="-1.8" rx="7.8" ry="2.2" fill="#d6a688" opacity="0.4"/></g>
<g transform="translate(111.1 278.1) rotate(5)"><path d="M-14 0C-10.4 -9.2 9.8 -9.2 14 0C9.8 9.2 -10.4 9.2 -14 0Z" fill="url(#g60)" stroke="#9e6544" stroke-width="0.8" stroke-linejoin="round"/><ellipse cx="-1.4" cy="-1.8" rx="8.4" ry="2.2" fill="#e8b894" opacity="0.4"/></g>
<ellipse cx="74.8" cy="251" rx="9.5" ry="4.8" fill="#ec9a94" transform="rotate(35 74.8 251)"/>
<ellipse cx="143.3" cy="271.2" rx="2.6" ry="3" fill="#e8b050"/>
<g transform="translate(92 302.5) rotate(25)"><ellipse rx="8" ry="5" fill="url(#g61)" stroke="#ad7a66" stroke-width="0.8"/><ellipse cx="-0.8" cy="-1.2" rx="4.8" ry="1.6" fill="#f9e6df" opacity="0.8"/></g>
<g transform="translate(73 308.4) rotate(5)"><ellipse rx="5.5" ry="8.5" fill="url(#g62)" stroke="#a76c5a" stroke-width="0.8"/><ellipse cx="-1.4" cy="-0.9" rx="1.8" ry="5.1" fill="#f4dbd5" opacity="0.8"/></g>
<g transform="translate(83.5 312.3) rotate(15)"><ellipse rx="5.5" ry="9" fill="url(#g63)" stroke="#aa7361" stroke-width="0.8"/><ellipse cx="-1.4" cy="-0.9" rx="1.8" ry="5.4" fill="#f7e0db" opacity="0.8"/></g>
<g transform="translate(109.1 307) rotate(-5)"><ellipse rx="10" ry="4.5" fill="url(#g64)" stroke="#ac7664" stroke-width="0.8"/><ellipse cx="-1" cy="-1.1" rx="6" ry="1.4" fill="#f8e3dd" opacity="0.8"/></g>
<g transform="translate(121.6 305.1) rotate(35)"><ellipse rx="11.5" ry="5" fill="url(#g65)" stroke="#ac7663" stroke-width="0.8"/><ellipse cx="-1.2" cy="-1.2" rx="6.9" ry="1.6" fill="#f8e3dc" opacity="0.8"/></g>
<g transform="translate(143.3 311.6) rotate(-5)"><ellipse rx="10.5" ry="4.5" fill="url(#g63)" stroke="#aa7361" stroke-width="0.8"/><ellipse cx="-1.1" cy="-1.1" rx="6.3" ry="1.4" fill="#f7e0db" opacity="0.8"/></g>
<g transform="translate(167.6 307.7) rotate(15)"><ellipse rx="7" ry="10" fill="url(#g66)" stroke="#aa6f56" stroke-width="0.8"/><ellipse cx="-1.8" cy="-1" rx="2.2" ry="6" fill="#f7ddd2" opacity="0.8"/></g>
<g transform="translate(98.6 315.6) rotate(5)"><ellipse rx="8" ry="4.5" fill="url(#g67)" stroke="#aa735e" stroke-width="0.8"/><ellipse cx="-0.8" cy="-1.1" rx="4.8" ry="1.4" fill="#f7e0d8" opacity="0.8"/></g>
<g transform="translate(118.3 317.6) rotate(40)"><ellipse rx="9" ry="6" fill="url(#g68)" stroke="#ac735e" stroke-width="0.8"/><ellipse cx="-0.9" cy="-1.5" rx="5.4" ry="1.9" fill="#f8e0d8" opacity="0.8"/></g>
<g transform="translate(88.1 322.2) rotate(-5)"><ellipse rx="8" ry="3.5" fill="url(#g69)" stroke="#aa816f" stroke-width="0.8"/><ellipse cx="-0.8" cy="-0.9" rx="4.8" ry="1.1" fill="#f7ece6" opacity="0.8"/></g>
<g transform="translate(100.6 324.1) rotate(-30)"><ellipse rx="11.5" ry="5" fill="url(#g70)" stroke="#aa6f50" stroke-width="0.8"/><ellipse cx="-1.2" cy="-1.2" rx="6.9" ry="1.6" fill="#f7ddcd" opacity="0.8"/></g>
<g transform="translate(132.1 320.8) rotate(40)"><ellipse rx="7" ry="6.5" fill="url(#g71)" stroke="#aa6f5e" stroke-width="0.8"/><ellipse cx="-0.7" cy="-1.6" rx="4.2" ry="2.1" fill="#f7ddd8" opacity="0.8"/></g>
<g transform="translate(153.8 321.5) rotate(-40)"><ellipse rx="11" ry="7" fill="url(#g71)" stroke="#aa6f5e" stroke-width="0.8"/><ellipse cx="-1.1" cy="-1.8" rx="6.6" ry="2.2" fill="#f7ddd8" opacity="0.8"/></g>
<g transform="translate(139.4 326.8) rotate(10)"><ellipse rx="5" ry="8" fill="url(#g72)" stroke="#aa7661" stroke-width="0.8"/><ellipse cx="-1.2" cy="-0.8" rx="1.6" ry="4.8" fill="#f7e3db" opacity="0.8"/></g>
<g transform="translate(75 328.1) rotate(-30)"><ellipse rx="7.5" ry="6" fill="url(#g73)" stroke="#aa735a" stroke-width="0.8"/><ellipse cx="-0.8" cy="-1.5" rx="4.5" ry="1.9" fill="#f7e0d5" opacity="0.8"/></g>
<g transform="translate(121.6 329.4) rotate(-8)"><ellipse rx="12" ry="3.5" fill="url(#g74)" stroke="#aa7364" stroke-width="0.8"/><ellipse cx="-1.2" cy="-0.9" rx="7.2" ry="1.1" fill="#f7e0dd" opacity="0.8"/></g>
<g transform="translate(80.8 335.2) rotate(-38)"><ellipse rx="9" ry="5.3" fill="url(#g64)" stroke="#ac7664" stroke-width="0.8"/><ellipse cx="-0.9" cy="-1.3" rx="5.4" ry="1.7" fill="#f8e3dd" opacity="0.8"/></g>
<g transform="translate(95 337) rotate(-32)"><ellipse rx="10.5" ry="4.8" fill="url(#g75)" stroke="#ae7e6b" stroke-width="0.8"/><ellipse cx="-1.1" cy="-1.2" rx="6.3" ry="1.5" fill="#fae9e3" opacity="0.8"/></g>
<g transform="translate(153.5 334.6) rotate(-5)"><ellipse rx="12.5" ry="4.3" fill="url(#g76)" stroke="#aa7664" stroke-width="0.8"/><ellipse cx="-1.2" cy="-1.1" rx="7.5" ry="1.4" fill="#f7e3dd" opacity="0.8"/></g>
<g transform="translate(172.2 335) rotate(-18)"><ellipse rx="5.5" ry="9" fill="url(#g66)" stroke="#aa6f56" stroke-width="0.8"/><ellipse cx="-1.4" cy="-0.9" rx="1.8" ry="5.4" fill="#f7ddd2" opacity="0.8"/></g>
<g transform="translate(110.4 331.4) rotate(0)"><ellipse rx="6" ry="4" fill="url(#g71)" stroke="#aa6f5e" stroke-width="0.8"/><ellipse cx="-0.6" cy="-1" rx="3.6" ry="1.3" fill="#f7ddd8" opacity="0.8"/></g>
<g transform="translate(128.5 337.2) rotate(8)"><ellipse rx="8.5" ry="4" fill="url(#g76)" stroke="#aa7664" stroke-width="0.8"/><ellipse cx="-0.9" cy="-1" rx="5.1" ry="1.3" fill="#f7e3dd" opacity="0.8"/></g>
<g transform="translate(103.2 341.2) rotate(15)"><ellipse rx="5.5" ry="8" fill="url(#g77)" stroke="#a76f5a" stroke-width="0.8"/><ellipse cx="-1.4" cy="-0.8" rx="1.8" ry="4.8" fill="#f4ddd5" opacity="0.8"/></g>
<g transform="translate(119.6 341.8) rotate(30)"><ellipse rx="9.5" ry="5" fill="url(#g76)" stroke="#aa7664" stroke-width="0.8"/><ellipse cx="-1" cy="-1.2" rx="5.7" ry="1.6" fill="#f7e3dd" opacity="0.8"/></g>
<g transform="translate(87.5 372) rotate(-20)"><ellipse rx="6" ry="6" fill="url(#g78)" stroke="#ad7a67" stroke-width="0.7"/><ellipse cx="-0.6" cy="-1.5" rx="3.6" ry="1.9" fill="#f6d9d0" opacity="0.5"/></g>
<g transform="translate(59.9 408.4) rotate(0)"><ellipse rx="5.5" ry="4.5" fill="url(#g79)" stroke="#9a624b" stroke-width="0.7"/><ellipse cx="-0.6" cy="-1.1" rx="3.3" ry="1.4" fill="#debcae" opacity="0.5"/></g>
<g transform="translate(172 392.8) rotate(20)"><ellipse rx="4" ry="3.5" fill="url(#g80)" stroke="#a76442" stroke-width="0.7"/><ellipse cx="-0.4" cy="-0.9" rx="2.4" ry="1.1" fill="#efbea2" opacity="0.5"/></g>
<line x1="101.5" y1="360" x2="99.5" y2="376" stroke="#aa7056" stroke-width="9" stroke-linecap="round"/>
<line x1="101.5" y1="360" x2="99.5" y2="376" stroke="#e8a888" stroke-width="7.5" stroke-linecap="round"/>
<line x1="101.5" y1="359.1" x2="99.5" y2="375.1" stroke="#f1c9b5" stroke-width="4.4" stroke-linecap="round"/>
<line x1="114" y1="376" x2="153" y2="379.3" stroke="#a16c49" stroke-width="7" stroke-linecap="round"/>
<line x1="114" y1="376" x2="153" y2="379.3" stroke="#d8a070" stroke-width="5.5" stroke-linecap="round"/>
<line x1="114" y1="375.1" x2="153" y2="378.4" stroke="#e7c4a6" stroke-width="2.4" stroke-linecap="round"/>
<line x1="63" y1="387.5" x2="89" y2="382.2" stroke="#a86543" stroke-width="7" stroke-linecap="round"/>
<line x1="63" y1="387.5" x2="89" y2="382.2" stroke="#e49264" stroke-width="5.5" stroke-linecap="round"/>
<line x1="63" y1="386.6" x2="89" y2="381.3" stroke="#eebb9f" stroke-width="2.4" stroke-linecap="round"/>
<line x1="111" y1="385.5" x2="174" y2="394" stroke="#a8613f" stroke-width="7.5" stroke-linecap="round"/>
<line x1="111" y1="385.5" x2="174" y2="394" stroke="#e48a5c" stroke-width="6" stroke-linecap="round"/>
<line x1="111" y1="384.6" x2="174" y2="393.1" stroke="#eeb69a" stroke-width="2.9" stroke-linecap="round"/>
<line x1="80" y1="396" x2="97" y2="383.5" stroke="#a16c49" stroke-width="6" stroke-linecap="round"/>
<line x1="80" y1="396" x2="97" y2="383.5" stroke="#d8a070" stroke-width="4.5" stroke-linecap="round"/>
<line x1="80" y1="395.1" x2="97" y2="382.6" stroke="#e7c4a6" stroke-width="1.4" stroke-linecap="round"/>
<line x1="72" y1="401" x2="103" y2="392.3" stroke="#a86947" stroke-width="8" stroke-linecap="round"/>
<line x1="72" y1="401" x2="103" y2="392.3" stroke="#e49a6c" stroke-width="6.5" stroke-linecap="round"/>
<line x1="72" y1="400.1" x2="103" y2="391.4" stroke="#eec0a4" stroke-width="3.4" stroke-linecap="round"/>
<line x1="96" y1="403" x2="150" y2="393.5" stroke="#a4653f" stroke-width="7" stroke-linecap="round"/>
<line x1="96" y1="403" x2="150" y2="393.5" stroke="#dc925c" stroke-width="5.5" stroke-linecap="round"/>
<line x1="96" y1="402.1" x2="150" y2="392.6" stroke="#e9bb9a" stroke-width="2.4" stroke-linecap="round"/>
<line x1="86" y1="408" x2="119" y2="401" stroke="#a86543" stroke-width="8" stroke-linecap="round"/>
<line x1="86" y1="408" x2="119" y2="401" stroke="#e49264" stroke-width="6.5" stroke-linecap="round"/>
<line x1="86" y1="407.1" x2="119" y2="400.1" stroke="#eebb9f" stroke-width="3.4" stroke-linecap="round"/>
<line x1="124" y1="396.4" x2="152" y2="392.8" stroke="#9d6c49" stroke-width="8" stroke-linecap="round"/>
<line x1="124" y1="396.4" x2="152" y2="392.8" stroke="#d0a070" stroke-width="6.5" stroke-linecap="round"/>
<line x1="124" y1="395.5" x2="152" y2="391.9" stroke="#e2c4a6" stroke-width="3.4" stroke-linecap="round"/>
<line x1="135" y1="401.6" x2="151" y2="398.1" stroke="#a1704d" stroke-width="6" stroke-linecap="round"/>
<line x1="135" y1="401.6" x2="151" y2="398.1" stroke="#d8a878" stroke-width="4.5" stroke-linecap="round"/>
<line x1="135" y1="400.7" x2="151" y2="397.2" stroke="#e7c9ab" stroke-width="1.4" stroke-linecap="round"/>
<line x1="82.5" y1="417.3" x2="168.5" y2="408.6" stroke="#ac6c4d" stroke-width="8" stroke-linecap="round"/>
<line x1="82.5" y1="417.3" x2="168.5" y2="408.6" stroke="#eca078" stroke-width="6.5" stroke-linecap="round"/>
<line x1="82.5" y1="416.4" x2="168.5" y2="407.7" stroke="#f3c4ab" stroke-width="3.4" stroke-linecap="round"/>
<line x1="101.5" y1="421.2" x2="130" y2="416.5" stroke="#a46143" stroke-width="6" stroke-linecap="round"/>
<line x1="101.5" y1="421.2" x2="130" y2="416.5" stroke="#dc8a64" stroke-width="4.5" stroke-linecap="round"/>
<line x1="101.5" y1="420.3" x2="130" y2="415.6" stroke="#e9b69f" stroke-width="1.4" stroke-linecap="round"/>
<line x1="59" y1="413.5" x2="70.5" y2="420" stroke="#a16c52" stroke-width="7" stroke-linecap="round"/>
<line x1="59" y1="413.5" x2="70.5" y2="420" stroke="#d8a080" stroke-width="5.5" stroke-linecap="round"/>
<line x1="59" y1="412.6" x2="70.5" y2="419.1" stroke="#e7c4b0" stroke-width="2.4" stroke-linecap="round"/>
<line x1="66" y1="392.5" x2="83" y2="399.5" stroke="#a66949" stroke-width="6" stroke-linecap="round"/>
<line x1="66" y1="392.5" x2="83" y2="399.5" stroke="#e09a70" stroke-width="4.5" stroke-linecap="round"/>
<line x1="66" y1="391.6" x2="83" y2="398.6" stroke="#ecc0a6" stroke-width="1.4" stroke-linecap="round"/>
<line x1="85" y1="399.5" x2="108" y2="390" stroke="#a86d4f" stroke-width="6" stroke-linecap="round"/>
<line x1="85" y1="399.5" x2="108" y2="390" stroke="#e4a27a" stroke-width="4.5" stroke-linecap="round"/>
<line x1="85" y1="398.6" x2="108" y2="389.1" stroke="#eec5ad" stroke-width="1.4" stroke-linecap="round"/>
<line x1="100" y1="395.5" x2="122" y2="388.5" stroke="#a46644" stroke-width="6" stroke-linecap="round"/>
<line x1="100" y1="395.5" x2="122" y2="388.5" stroke="#dc9466" stroke-width="4.5" stroke-linecap="round"/>
<line x1="100" y1="394.6" x2="122" y2="387.6" stroke="#e9bda0" stroke-width="1.4" stroke-linecap="round"/>
<line x1="118" y1="392" x2="140" y2="388.5" stroke="#a66949" stroke-width="6" stroke-linecap="round"/>
<line x1="118" y1="392" x2="140" y2="388.5" stroke="#e09a70" stroke-width="4.5" stroke-linecap="round"/>
<line x1="118" y1="391.1" x2="140" y2="387.6" stroke="#ecc0a6" stroke-width="1.4" stroke-linecap="round"/>
<line x1="76" y1="410.5" x2="98" y2="404.5" stroke="#a86947" stroke-width="6" stroke-linecap="round"/>
<line x1="76" y1="410.5" x2="98" y2="404.5" stroke="#e49a6c" stroke-width="4.5" stroke-linecap="round"/>
<line x1="76" y1="409.6" x2="98" y2="403.6" stroke="#eec0a4" stroke-width="1.4" stroke-linecap="round"/>
<line x1="93" y1="413.5" x2="128" y2="409.5" stroke="#aa6e50" stroke-width="6.5" stroke-linecap="round"/>
<line x1="93" y1="413.5" x2="128" y2="409.5" stroke="#e8a47c" stroke-width="5" stroke-linecap="round"/>
<line x1="93" y1="412.6" x2="128" y2="408.6" stroke="#f1c7ae" stroke-width="1.9" stroke-linecap="round"/>
<line x1="127" y1="405.5" x2="160" y2="400.5" stroke="#a86947" stroke-width="6" stroke-linecap="round"/>
<line x1="127" y1="405.5" x2="160" y2="400.5" stroke="#e49a6c" stroke-width="4.5" stroke-linecap="round"/>
<line x1="127" y1="404.6" x2="160" y2="399.6" stroke="#eec0a4" stroke-width="1.4" stroke-linecap="round"/>
<line x1="108" y1="398.5" x2="135" y2="394.5" stroke="#ae7d62" stroke-width="4.5" stroke-linecap="round"/>
<line x1="108" y1="398.5" x2="135" y2="394.5" stroke="#f0c0a0" stroke-width="3" stroke-linecap="round"/>
<line x1="108" y1="397.6" x2="135" y2="393.6" stroke="#f6d8c4" stroke-width="1" stroke-linecap="round"/>
<path d="M110.4 407.3Q120 407.5 128.8 401.6" fill="none" stroke="#e8a888" stroke-width="2.4" stroke-linecap="round"/>
<ellipse cx="139" cy="385.5" rx="2.2" ry="2.6" fill="#8a6058"/>
</g>
<g stroke="#0d4f96" stroke-width="2.5" fill="none">
<line x1="66.75" y1="10.1" x2="168.55" y2="10.1" stroke-dasharray="8.9 8.6" stroke-dashoffset="3.8"/>
<line x1="66.75" y1="428.8" x2="168.55" y2="428.8" stroke-dasharray="9 8.25" stroke-dashoffset="7.1"/>
<line x1="68" y1="8.85" x2="68" y2="430.05" stroke-dasharray="9.2 8.03" stroke-dashoffset="3.38"/>
<line x1="167.3" y1="8.85" x2="167.3" y2="430.05" stroke-dasharray="9.45 7.79" stroke-dashoffset="0"/>
</g>
<rect x="116.4" y="446.2" width="60.8" height="8" fill="#000"/>
<rect x="136.6" y="446.7" width="20.2" height="7" fill="#fff" stroke="#999" stroke-width="0.6"/>
<text x="146" y="441.3" font-family="'Liberation Sans', sans-serif" font-size="10.3" fill="#222" text-anchor="middle">3 cm</text>
<clipPath id="cb"><rect x="258.7" y="10.4" width="114.6" height="412.5"/></clipPath>
<rect x="258.7" y="10.4" width="114.6" height="412.5" fill="#000"/>
<g clip-path="url(#cb)"><g filter="url(#blur1)">
<ellipse cx="278.9" cy="41.6" rx="14.3" ry="8" fill="url(#g81)" transform="rotate(-25 278.9 41.6)"/>
<ellipse cx="276" cy="56" rx="7.4" ry="6.4" fill="url(#g82)"/>
<ellipse cx="295.3" cy="53.2" rx="12.7" ry="9.6" fill="url(#g83)" transform="rotate(-30 295.3 53.2)"/>
<ellipse cx="312.6" cy="59.9" rx="10.6" ry="9.6" fill="url(#g83)" transform="rotate(30 312.6 59.9)"/>
<ellipse cx="292.4" cy="66.7" rx="13.8" ry="7" fill="url(#g84)" transform="rotate(10 292.4 66.7)"/>
<ellipse cx="314.5" cy="70.5" rx="11.7" ry="5.9" fill="url(#g85)" transform="rotate(-10 314.5 70.5)"/>
<ellipse cx="336.7" cy="52.2" rx="13.2" ry="6.4" fill="url(#g81)" transform="rotate(5 336.7 52.2)"/>
<ellipse cx="336.7" cy="62.8" rx="12.7" ry="6.4" fill="url(#g86)" transform="rotate(-5 336.7 62.8)"/>
<ellipse cx="357" cy="57.6" rx="9" ry="8" fill="url(#g81)"/>
<ellipse cx="272.2" cy="102.3" rx="13.8" ry="6.4" fill="url(#g87)" transform="rotate(-20 272.2 102.3)"/>
<ellipse cx="270.2" cy="113.9" rx="11.7" ry="7" fill="url(#g88)" transform="rotate(-25 270.2 113.9)"/>
<ellipse cx="290.5" cy="105.2" rx="10.6" ry="7" fill="url(#g89)" transform="rotate(-40 290.5 105.2)"/>
<ellipse cx="304.9" cy="107.2" rx="13.8" ry="6.4" fill="url(#g87)" transform="rotate(-40 304.9 107.2)"/>
<ellipse cx="284.7" cy="119.7" rx="12.7" ry="5.9" fill="url(#g90)" transform="rotate(-10 284.7 119.7)"/>
<ellipse cx="303" cy="120.6" rx="12.7" ry="6.4" fill="url(#g87)" transform="rotate(-30 303 120.6)"/>
<ellipse cx="277" cy="130.3" rx="18" ry="5.4" fill="url(#g89)"/>
<ellipse cx="313.6" cy="129.3" rx="15.9" ry="7.5" fill="url(#g87)" transform="rotate(-25 313.6 129.3)"/>
<ellipse cx="284.7" cy="139.9" rx="15.9" ry="5.4" fill="url(#g88)"/>
<ellipse cx="327" cy="135.1" rx="13.8" ry="6.4" fill="url(#g91)" transform="rotate(-30 327 135.1)"/>
<ellipse cx="278" cy="148.6" rx="17" ry="5.9" fill="url(#g89)"/>
<ellipse cx="304" cy="154.4" rx="19.1" ry="5.4" fill="url(#g87)" transform="rotate(5 304 154.4)"/>
<ellipse cx="324.2" cy="147.6" rx="15.9" ry="5.4" fill="url(#g88)" transform="rotate(-5 324.2 147.6)"/>
<ellipse cx="345.4" cy="125.5" rx="10.6" ry="8.6" fill="url(#g89)" transform="rotate(30 345.4 125.5)"/>
<ellipse cx="344.4" cy="140.9" rx="9.5" ry="8" fill="url(#g87)" transform="rotate(40 344.4 140.9)"/>
<ellipse cx="361.8" cy="137" rx="9.5" ry="9.6" fill="url(#g89)"/>
<ellipse cx="278.9" cy="171.2" rx="18" ry="7" fill="url(#g92)" transform="rotate(-18 278.9 171.2)"/>
<ellipse cx="298.2" cy="177.9" rx="18" ry="7" fill="url(#g93)" transform="rotate(-20 298.2 177.9)"/>
<ellipse cx="269.3" cy="185.6" rx="12.7" ry="7" fill="url(#g94)"/>
<ellipse cx="281.8" cy="194.3" rx="12.7" ry="7.5" fill="url(#g95)" transform="rotate(30 281.8 194.3)"/>
<ellipse cx="299.1" cy="189.5" rx="10.6" ry="7.5" fill="url(#g96)" transform="rotate(-20 299.1 189.5)"/>
<ellipse cx="305.9" cy="198.2" rx="14.8" ry="7.5" fill="url(#g97)" transform="rotate(-30 305.9 198.2)"/>
<ellipse cx="274.1" cy="205.9" rx="15.9" ry="8" fill="url(#g95)" transform="rotate(20 274.1 205.9)"/>
<ellipse cx="327.1" cy="199.1" rx="15.9" ry="6.4" fill="url(#g97)" transform="rotate(-35 327.1 199.1)"/>
<ellipse cx="313.6" cy="214.5" rx="19.1" ry="5.9" fill="url(#g92)" transform="rotate(-5 313.6 214.5)"/>
<ellipse cx="313.6" cy="233.9" rx="21.2" ry="5.9" fill="url(#g98)" transform="rotate(-3 313.6 233.9)"/>
<ellipse cx="275" cy="238.3" rx="18" ry="6.4" fill="url(#g99)" transform="rotate(-5 275 238.3)"/>
<ellipse cx="304" cy="246" rx="22.3" ry="5.9" fill="url(#g98)" transform="rotate(-3 304 246)"/>
<ellipse cx="268.3" cy="252.8" rx="10.6" ry="8.6" fill="url(#g100)" transform="rotate(40 268.3 252.8)"/>
<ellipse cx="292.4" cy="257.6" rx="15.9" ry="5.4" fill="url(#g99)"/>
<ellipse cx="319.4" cy="258.5" rx="15.9" ry="9.6" fill="url(#g98)" transform="rotate(-50 319.4 258.5)"/>
<ellipse cx="287.6" cy="269.1" rx="20.1" ry="6.4" fill="url(#g99)" transform="rotate(3 287.6 269.1)"/>
<ellipse cx="263.5" cy="274.9" rx="8.5" ry="9.6" fill="url(#g100)"/>
<ellipse cx="307.8" cy="278.8" rx="18" ry="7" fill="url(#g98)" transform="rotate(5 307.8 278.8)"/>
<ellipse cx="315.5" cy="316" rx="10.6" ry="5.4" fill="url(#g101)" transform="rotate(40 315.5 316)"/>
<ellipse cx="282.8" cy="320.8" rx="11.7" ry="4.3" fill="url(#g101)" transform="rotate(-5 282.8 320.8)"/>
<ellipse cx="298.2" cy="321.8" rx="13.8" ry="5.4" fill="url(#g101)" transform="rotate(-20 298.2 321.8)"/>
<ellipse cx="267.3" cy="327.6" rx="9.5" ry="6.4" fill="url(#g101)"/>
<ellipse cx="269.3" cy="334.3" rx="9.5" ry="5.4" fill="url(#g101)" transform="rotate(-30 269.3 334.3)"/>
<ellipse cx="315.5" cy="327.6" rx="18" ry="4.3" fill="url(#g101)" transform="rotate(-5 315.5 327.6)"/>
<ellipse cx="332.9" cy="318.9" rx="12.7" ry="5.4" fill="url(#g101)" transform="rotate(35 332.9 318.9)"/>
<ellipse cx="341.5" cy="324.7" rx="8.5" ry="6.4" fill="url(#g101)" transform="rotate(40 341.5 324.7)"/>
<ellipse cx="357.9" cy="317" rx="12.7" ry="5.4" fill="url(#g101)" transform="rotate(-35 357.9 317)"/>
<ellipse cx="365.6" cy="322.8" rx="8.5" ry="5.4" fill="url(#g101)" transform="rotate(-30 365.6 322.8)"/>
<ellipse cx="357.9" cy="332.4" rx="15.9" ry="4.8" fill="url(#g101)" transform="rotate(-5 357.9 332.4)"/>
<ellipse cx="332.9" cy="334.3" rx="10.6" ry="4.3" fill="url(#g101)"/>
<ellipse cx="286.6" cy="335.3" rx="13.8" ry="5.4" fill="url(#g101)" transform="rotate(-30 286.6 335.3)"/>
<ellipse cx="300.1" cy="340.1" rx="10.6" ry="5.4" fill="url(#g101)" transform="rotate(-40 300.1 340.1)"/>
<ellipse cx="318.4" cy="339.1" rx="11.7" ry="5.4" fill="url(#g101)" transform="rotate(30 318.4 339.1)"/>
<ellipse cx="292.4" cy="328.5" rx="12.7" ry="4.8" fill="url(#g101)" transform="rotate(-25 292.4 328.5)"/>
<line x1="318" y1="366.5" x2="362" y2="372.5" stroke="#e6b44c" stroke-width="8" stroke-linecap="round"/>
<line x1="310" y1="376" x2="371" y2="381.4" stroke="#e6b44c" stroke-width="8" stroke-linecap="round"/>
<line x1="265" y1="390.5" x2="301" y2="382" stroke="#e6b44c" stroke-width="7" stroke-linecap="round"/>
<line x1="280" y1="397" x2="315" y2="387" stroke="#e6b44c" stroke-width="7" stroke-linecap="round"/>
<line x1="277" y1="405" x2="368" y2="392.5" stroke="#e6b44c" stroke-width="9" stroke-linecap="round"/>
<line x1="293" y1="411.5" x2="363" y2="395.5" stroke="#e6b44c" stroke-width="7" stroke-linecap="round"/>
<line x1="332" y1="389.5" x2="357" y2="385.5" stroke="#e6b44c" stroke-width="8" stroke-linecap="round"/>
<line x1="262.5" y1="399" x2="265" y2="410" stroke="#e6b44c" stroke-width="6" stroke-linecap="round"/>
<line x1="300" y1="398" x2="322" y2="392" stroke="#e6b44c" stroke-width="6" stroke-linecap="round"/>
<line x1="283" y1="403.5" x2="330" y2="396" stroke="#e6b44c" stroke-width="7" stroke-linecap="round"/>
<line x1="263" y1="396" x2="271" y2="407" stroke="#e6b44c" stroke-width="7" stroke-linecap="round"/>
<line x1="318" y1="384" x2="350" y2="388" stroke="#e6b44c" stroke-width="6" stroke-linecap="round"/>
</g></g>
<clipPath id="cc"><rect x="455" y="10.4" width="114.9" height="411.8"/></clipPath>
<rect x="455" y="10.4" width="114.9" height="411.8" fill="#000"/>
<g clip-path="url(#cc)"><g filter="url(#blur1)">
<ellipse cx="494.1" cy="26.2" rx="11.7" ry="5.9" fill="url(#g102)" transform="rotate(-15 494.1 26.2)"/>
<ellipse cx="496.1" cy="36.8" rx="8.5" ry="8.6" fill="url(#g83)"/>
<ellipse cx="518.2" cy="28.1" rx="12.7" ry="9.1" fill="url(#g85)" transform="rotate(-10 518.2 28.1)"/>
<ellipse cx="513.4" cy="42.6" rx="12.7" ry="8.6" fill="url(#g83)" transform="rotate(-15 513.4 42.6)"/>
<ellipse cx="538.4" cy="35.8" rx="11.1" ry="9.6" fill="url(#g103)" transform="rotate(-10 538.4 35.8)"/>
<ellipse cx="490.3" cy="91.4" rx="15.4" ry="7" fill="url(#g89)" transform="rotate(30 490.3 91.4)"/>
<ellipse cx="520.1" cy="86.2" rx="15.9" ry="5.4" fill="url(#g87)" transform="rotate(5 520.1 86.2)"/>
<ellipse cx="511.5" cy="93.3" rx="12.7" ry="5.4" fill="url(#g88)" transform="rotate(25 511.5 93.3)"/>
<ellipse cx="544.2" cy="94.3" rx="18" ry="5.4" fill="url(#g87)" transform="rotate(-8 544.2 94.3)"/>
<ellipse cx="537.5" cy="102.9" rx="20.1" ry="5.9" fill="url(#g89)" transform="rotate(-8 537.5 102.9)"/>
<ellipse cx="543.3" cy="111.6" rx="18" ry="5.9" fill="url(#g87)" transform="rotate(-12 543.3 111.6)"/>
<ellipse cx="519.2" cy="112.6" rx="10.6" ry="9.6" fill="url(#g89)" transform="rotate(20 519.2 112.6)"/>
<ellipse cx="525.9" cy="173.1" rx="17" ry="5.9" fill="url(#g92)" transform="rotate(8 525.9 173.1)"/>
<ellipse cx="522.1" cy="183.7" rx="19.1" ry="7.5" fill="url(#g104)" transform="rotate(3 522.1 183.7)"/>
<ellipse cx="555.8" cy="184.7" rx="17" ry="7" fill="url(#g92)" transform="rotate(30 555.8 184.7)"/>
<ellipse cx="542.3" cy="196.2" rx="10.6" ry="6.4" fill="url(#g96)" transform="rotate(-55 542.3 196.2)"/>
<ellipse cx="532.7" cy="245" rx="14.8" ry="8.6" fill="url(#g99)" transform="rotate(35 532.7 245)"/>
<ellipse cx="553.9" cy="242.2" rx="10.6" ry="11.8" fill="url(#g99)" transform="rotate(20 553.9 242.2)"/>
<ellipse cx="539.4" cy="269.1" rx="18" ry="15" fill="url(#g99)" transform="rotate(10 539.4 269.1)"/>
<ellipse cx="562.5" cy="264.3" rx="9.5" ry="11.2" fill="url(#g98)"/>
<ellipse cx="460.4" cy="307.7" rx="4.8" ry="8.6" fill="url(#g101)"/>
<ellipse cx="470" cy="311.5" rx="7.4" ry="8.6" fill="url(#g101)" transform="rotate(20 470 311.5)"/>
<ellipse cx="480.6" cy="300" rx="9.5" ry="4.8" fill="url(#g101)" transform="rotate(25 480.6 300)"/>
<ellipse cx="494.1" cy="305.7" rx="9.5" ry="4.8" fill="url(#g101)" transform="rotate(-5 494.1 305.7)"/>
<ellipse cx="492.2" cy="314.4" rx="11.7" ry="3.7" fill="url(#g101)"/>
<ellipse cx="512.4" cy="300.9" rx="9.5" ry="4.8" fill="url(#g101)" transform="rotate(10 512.4 300.9)"/>
<ellipse cx="522.1" cy="306.7" rx="9.5" ry="4.3" fill="url(#g101)" transform="rotate(25 522.1 306.7)"/>
<ellipse cx="543.3" cy="310.6" rx="12.7" ry="4.3" fill="url(#g101)" transform="rotate(-5 543.3 310.6)"/>
<ellipse cx="567.4" cy="308.6" rx="4.2" ry="6.4" fill="url(#g101)"/>
<line x1="458" y1="375.9" x2="474" y2="374" stroke="#e8b040" stroke-width="6" stroke-linecap="round"/>
<line x1="471.5" y1="367.5" x2="482" y2="362.5" stroke="#e0a840" stroke-width="6" stroke-linecap="round"/>
<line x1="462" y1="383" x2="491" y2="374.5" stroke="#e8b040" stroke-width="5" stroke-linecap="round"/>
<line x1="492.5" y1="370" x2="507.5" y2="355.5" stroke="#e8b040" stroke-width="6" stroke-linecap="round"/>
<line x1="501" y1="365.3" x2="508" y2="362" stroke="#e8b040" stroke-width="4" stroke-linecap="round"/>
</g></g>
<rect x="258.8" y="449.1" width="5" height="5" rx="1" fill="#e8141c"/>
<text x="272" y="455.2" font-family="'Liberation Serif', serif" font-size="12.5" fill="#1c1c1c" stroke="#1c1c1c" stroke-width="0.18" letter-spacing="0.56">Stone</text>
<rect x="258.8" y="464.4" width="5" height="5" rx="1" fill="#10902a"/>
<text x="272" y="470.5" font-family="'Liberation Serif', serif" font-size="12.5" fill="#1c1c1c" stroke="#1c1c1c" stroke-width="0.18" letter-spacing="0.56">Edible pistacchio</text>
<rect x="258.8" y="479.8" width="5" height="5" rx="1" fill="#1020a0"/>
<text x="272" y="485.9" font-family="'Liberation Serif', serif" font-size="12.5" fill="#1c1c1c" stroke="#1c1c1c" stroke-width="0.18" letter-spacing="0.56">Pistachio Shell</text>
<rect x="258.8" y="495" width="5" height="5" rx="1" fill="#10b0e0"/>
<text x="272" y="501.1" font-family="'Liberation Serif', serif" font-size="12.5" fill="#1c1c1c" stroke="#1c1c1c" stroke-width="0.18" letter-spacing="0.56">Pistachio husk</text>
<rect x="258.8" y="509.9" width="5" height="5" rx="1" fill="#f8b0e0"/>
<text x="272" y="516" font-family="'Liberation Serif', serif" font-size="12.5" fill="#1c1c1c" stroke="#1c1c1c" stroke-width="0.18" letter-spacing="0.56">Inedible pistachio</text>
<rect x="258.8" y="524.4" width="5" height="5" rx="1" fill="#f8cc80"/>
<text x="269" y="530.5" font-family="'Liberation Serif', serif" font-size="12.5" fill="#1c1c1c" stroke="#1c1c1c" stroke-width="0.18" letter-spacing="0.56">Twig</text>
<rect x="456" y="450.9" width="5" height="5" rx="1" fill="#e8141c"/>
<text x="469.3" y="457" font-family="'Liberation Serif', serif" font-size="12.5" fill="#1c1c1c" stroke="#1c1c1c" stroke-width="0.18" letter-spacing="0.56">Stone</text>
<rect x="456" y="466.3" width="5" height="5" rx="1" fill="#10902a"/>
<text x="469.3" y="472.4" font-family="'Liberation Serif', serif" font-size="12.5" fill="#1c1c1c" stroke="#1c1c1c" stroke-width="0.18" letter-spacing="0.56">Edible pistacchio</text>
<rect x="456" y="482.1" width="5" height="5" rx="1" fill="#1020a0"/>
<text x="469.3" y="488.2" font-family="'Liberation Serif', serif" font-size="12.5" fill="#1c1c1c" stroke="#1c1c1c" stroke-width="0.18" letter-spacing="0.56">Pistachio Shell</text>
<rect x="456" y="496.9" width="5" height="5" rx="1" fill="#10b0e0"/>
<text x="469.3" y="503" font-family="'Liberation Serif', serif" font-size="12.5" fill="#1c1c1c" stroke="#1c1c1c" stroke-width="0.18" letter-spacing="0.56">Pistachio husk</text>
<rect x="456" y="512.2" width="5" height="5" rx="1" fill="#f8b0e0"/>
<text x="469.3" y="518.3" font-family="'Liberation Serif', serif" font-size="12.5" fill="#1c1c1c" stroke="#1c1c1c" stroke-width="0.18" letter-spacing="0.56">Inedible pistachio</text>
<rect x="456" y="526.5" width="5" height="5" rx="1" fill="#f8cc80"/>
<text x="466" y="532.6" font-family="'Liberation Serif', serif" font-size="12.5" fill="#1c1c1c" stroke="#1c1c1c" stroke-width="0.18" letter-spacing="0.56">Twig</text>
<g font-family="'Liberation Sans', sans-serif" font-weight="bold" fill="#000">
<text x="118" y="562.3" font-size="16" text-anchor="middle">a</text>
<text x="316" y="562.3" font-size="15.5" text-anchor="middle">b</text>
<text x="513.8" y="562.3" font-size="15.5" text-anchor="middle">c</text>
</g>
<rect x="630" y="18" width="407.5" height="314.2" fill="#fff" stroke="#3a3a3a" stroke-width="1.25"/>
<path d="M630 332.2v-4M630 18v4" stroke="#3a3a3a" stroke-width="1" fill="none"/>
<text x="630" y="357.2" font-family="'Liberation Sans', sans-serif" font-size="17.8" fill="#262626" text-anchor="middle">1000</text>
<path d="M765.8 332.2v-4M765.8 18v4" stroke="#3a3a3a" stroke-width="1" fill="none"/>
<text x="765.8" y="357.2" font-family="'Liberation Sans', sans-serif" font-size="17.8" fill="#262626" text-anchor="middle">1500</text>
<path d="M901.9 332.2v-4M901.9 18v4" stroke="#3a3a3a" stroke-width="1" fill="none"/>
<text x="901.9" y="357.2" font-family="'Liberation Sans', sans-serif" font-size="17.8" fill="#262626" text-anchor="middle">2000</text>
<path d="M1037.5 332.2v-4M1037.5 18v4" stroke="#3a3a3a" stroke-width="1" fill="none"/>
<text x="1037.5" y="357.2" font-family="'Liberation Sans', sans-serif" font-size="17.8" fill="#262626" text-anchor="middle">2500</text>
<path d="M630 332.2h4M1037.5 332.2h-4" stroke="#3a3a3a" stroke-width="1" fill="none"/>
<text transform="translate(625.1 340) scale(1.100 1)" font-family="'Liberation Sans', sans-serif" font-size="17.3" fill="#262626" text-anchor="end">0</text>
<path d="M630 287.3h4M1037.5 287.3h-4" stroke="#3a3a3a" stroke-width="1" fill="none"/>
<text transform="translate(625.1 295) scale(1.100 1)" font-family="'Liberation Sans', sans-serif" font-size="17.3" fill="#262626" text-anchor="end">0.1</text>
<path d="M630 242.4h4M1037.5 242.4h-4" stroke="#3a3a3a" stroke-width="1" fill="none"/>
<text transform="translate(625.1 249.9) scale(1.100 1)" font-family="'Liberation Sans', sans-serif" font-size="17.3" fill="#262626" text-anchor="end">0.2</text>
<path d="M630 197.5h4M1037.5 197.5h-4" stroke="#3a3a3a" stroke-width="1" fill="none"/>
<text transform="translate(625.1 204.9) scale(1.100 1)" font-family="'Liberation Sans', sans-serif" font-size="17.3" fill="#262626" text-anchor="end">0.3</text>
<path d="M630 152.6h4M1037.5 152.6h-4" stroke="#3a3a3a" stroke-width="1" fill="none"/>
<text transform="translate(625.1 159.8) scale(1.100 1)" font-family="'Liberation Sans', sans-serif" font-size="17.3" fill="#262626" text-anchor="end">0.4</text>
<path d="M630 107.7h4M1037.5 107.7h-4" stroke="#3a3a3a" stroke-width="1" fill="none"/>
<text transform="translate(625.1 114.8) scale(1.100 1)" font-family="'Liberation Sans', sans-serif" font-size="17.3" fill="#262626" text-anchor="end">0.5</text>
<path d="M630 62.8h4M1037.5 62.8h-4" stroke="#3a3a3a" stroke-width="1" fill="none"/>
<text transform="translate(625.1 69.8) scale(1.100 1)" font-family="'Liberation Sans', sans-serif" font-size="17.3" fill="#262626" text-anchor="end">0.6</text>
<path d="M630 17.9h4M1037.5 17.9h-4" stroke="#3a3a3a" stroke-width="1" fill="none"/>
<text transform="translate(625.1 24.7) scale(1.100 1)" font-family="'Liberation Sans', sans-serif" font-size="17.3" fill="#262626" text-anchor="end">0.7</text>
<text transform="translate(829.4 386.3) scale(1 0.94)" font-family="'Liberation Sans', sans-serif" font-size="19.8" fill="#262626" text-anchor="middle">Wavelength (nm)</text>
<text transform="translate(590.9 174.2) rotate(-90) scale(1 0.965)" font-family="'Liberation Sans', sans-serif" font-size="19.9" fill="#262626" text-anchor="middle">Reflectance</text>
<clipPath id="clip630"><rect x="630" y="18" width="408.5" height="314.2"/></clipPath>
<g clip-path="url(#clip630)" fill="none" stroke-width="2.6" stroke-linejoin="round" stroke-linecap="round">
<path d="M630.8 187.8C633.2 187.2 640.1 185.6 645 184.5C649.9 183.4 654.2 182.4 660 181.5C665.8 180.6 673.3 179.8 680 179C686.7 178.2 693.1 177.2 700 176.5C706.9 175.8 716.6 175.1 721.3 174.9C726 174.7 725.7 174.7 728 175.2C730.3 175.7 732.4 176.8 735 178C737.6 179.2 741 181.9 743.5 182.6C746 183.3 746.4 182.4 750 182C753.6 181.6 760 180.6 765 180C770 179.4 775 178.8 780 178.3C785 177.8 790.7 177.2 795 176.8C799.3 176.4 802.7 175.7 806 175.9C809.3 176.1 812.3 177.2 815 178C817.7 178.8 820 180.2 822 181C824 181.8 824.8 182.3 827 182.6C829.2 182.9 832.8 182.8 835 182.6C837.2 182.4 837.5 181.9 840 181.7C842.5 181.5 846 181.6 850 181.5C854 181.4 860.8 180.9 864 181.3C867.2 181.7 867.3 182.2 869 184C870.7 185.8 872.5 189.5 874 192C875.5 194.5 876.7 197.2 878 199C879.3 200.8 880.7 202.3 882 202.9C883.3 203.5 883.8 203.3 886 202.5C888.2 201.7 891.8 199.7 895 198C898.2 196.3 902.2 193.8 905 192.5C907.8 191.2 908.7 191 912 190.3C915.3 189.6 920.8 188.9 925 188.5C929.2 188.1 933.7 187.6 937 187.8C940.3 188.1 942 189 945 190C948 191 951.5 192.5 955 194C958.5 195.5 963 197 966 199C969 201 970.8 203.3 973 206C975.2 208.7 977 212 979 215C981 218 983.3 222.5 985 224C986.7 225.5 987.8 223.7 989 224C990.2 224.3 991 225.3 992 226C993 226.7 994 228 995 228C996 228 997 227.3 998 226C999 224.7 999.9 221.8 1001 220C1002.1 218.2 1003.3 216.3 1004.5 215.4C1005.7 214.5 1006.8 214.8 1008 214.8C1009.2 214.8 1010 214.4 1012 215.4C1014 216.4 1017.1 218.6 1020 221C1022.9 223.4 1026.7 227.1 1029.6 230C1032.5 232.9 1036 237.2 1037.3 238.7" stroke="#ff0000"/>
<path d="M630 61.6C631 61.8 633.5 63.4 636 62.5C638.5 61.6 641.2 57.9 645 56C648.8 54.1 655.5 51.5 658.7 51C661.9 50.5 662.1 50.2 664 53C665.9 55.8 668 61.8 670 68C672 74.2 674.3 85 676 90C677.7 95 678.7 95 680 98C681.3 101 682.8 105.2 684 108C685.2 110.8 686 114.7 687 115C688 115.3 688.8 114.2 690 110C691.2 105.8 692.3 95.3 694 90C695.7 84.7 697.8 80.7 700 78C702.2 75.3 704.6 75 707 74C709.4 73 712.4 71.4 714.6 71.7C716.8 72 717.9 72.1 720 76C722.1 79.9 724.4 87.7 727 95C729.6 102.3 733.3 112.5 735.8 120C738.3 127.5 740.1 134.2 742 140C743.9 145.8 745.3 151.1 747 155C748.7 158.9 749.8 161.6 752 163.4C754.2 165.2 756.2 165.8 760 165.7C763.8 165.6 770 164 775 163C780 162 785.5 160.6 790 159.5C794.5 158.4 799 156.7 802 156.6C805 156.5 806 156.8 808 159C810 161.2 812 165.8 814 170C816 174.2 818 180.1 820 184C822 187.9 824.3 192 826 193.2C827.7 194.4 828.8 191.6 830 191C831.2 190.4 832.2 189.5 833 189.4C833.8 189.3 834 190.2 835 190.3C836 190.5 836.5 191.4 839 190.3C841.5 189.2 845.8 186.1 850 184C854.2 181.9 860.7 178.2 864 177.8C867.3 177.4 868.2 178.8 869.7 181.7C871.2 184.6 871.8 189.9 873 195C874.2 200.1 875.3 207.2 877 212C878.7 216.8 881.2 222.3 883 224C884.8 225.7 886 223.2 888 222C890 220.8 892 219 895 217C898 215 903.2 210.7 906 210C908.8 209.3 909.7 211.7 912 213C914.3 214.3 917 216.4 920 218C923 219.6 926.2 220.8 930 222.5C933.8 224.2 939.3 227.3 943 228C946.7 228.7 948.8 227 952 226.5C955.2 226 959.5 224.8 962 225C964.5 225.2 965.7 226.7 967 227.5C968.3 228.3 968.3 228.2 970 230C971.7 231.8 974.5 235.6 977 238C979.5 240.4 982.7 243.8 985 244.5C987.3 245.2 989 242.5 991 242.5C993 242.5 994.7 244.3 997 244.5C999.3 244.7 1002.2 243.7 1005 243.5C1007.8 243.3 1011.2 242.9 1014 243.5C1016.8 244.1 1019.1 245.2 1022 247C1024.9 248.8 1029 252.3 1031.5 254C1034 255.7 1036.3 256.5 1037.3 257" stroke="#0a35e6"/>
<path d="M630 61C631.7 60.2 636.7 57.9 640 56C643.3 54.1 646.9 51.4 650 49.5C653.1 47.6 656.4 45.1 658.7 44.7C661 44.3 662.1 44.5 664 47C665.9 49.5 667.7 54.5 670 60C672.3 65.5 675.2 74.5 678 80C680.8 85.5 684.5 91.2 686.7 92.9C688.9 94.6 689.3 92.2 691 90C692.7 87.8 694.8 82.5 697 80C699.2 77.5 701.4 76.3 704 75C706.6 73.7 710.4 71.8 712.7 72C715 72.2 716.1 72.7 718 76C719.9 79.3 721.8 84.7 724 92C726.2 99.3 729 110.3 731 120C733 129.7 734.3 140 736 150C737.7 160 739.5 171.7 741 180C742.5 188.3 743.8 194.9 745 200C746.2 205.1 746.7 208.3 748 210.6C749.3 212.9 751.3 213.2 753 214C754.7 214.8 756.2 215.6 758 215.4C759.8 215.2 761.7 214.4 764 213C766.3 211.6 769.3 209 772 207C774.7 205 776.9 203 780 201C783.1 199 787.9 197.2 790.7 195C793.5 192.8 795.1 190.5 797 188C798.9 185.5 800.5 182.2 802 180C803.5 177.8 804.7 175.5 806 175C807.3 174.5 808.3 175.2 810 177C811.7 178.8 814 183.3 816 186C818 188.7 820.2 191.3 822 193C823.8 194.7 824.8 195.5 827 196C829.2 196.5 832.8 195.5 835 196C837.2 196.5 837.5 198.8 840 199C842.5 199.2 846.3 198.1 850 197C853.7 195.9 859.3 192.6 862 192.3C864.7 192 864.8 192.4 866 195C867.2 197.6 867.8 202.2 869 208C870.2 213.8 872 222.2 873.5 230C875 237.8 876.8 249.1 878 255C879.2 260.9 879.8 263.1 880.6 265.5C881.4 267.9 882 269.1 882.8 269.3C883.6 269.6 884.3 268.2 885.2 267C886.1 265.8 886.2 264.8 888 262C889.8 259.2 893 253.7 896 250C899 246.3 903.3 240.8 906 239.6C908.7 238.4 909.7 240.6 912 243C914.3 245.4 917.7 250.9 920 254C922.3 257.1 924.3 260.1 926 261.8C927.7 263.5 928.6 264 930 264.3C931.4 264.6 932.8 263.9 934.5 263.4C936.2 262.8 937.4 262.2 940 261C942.6 259.8 946.7 257.4 950 256C953.3 254.6 957.5 252.5 960 252.7C962.5 252.9 963.5 254.8 965 257C966.5 259.2 967.5 263.3 969 266C970.5 268.7 971.9 272 973.7 273.4C975.5 274.8 977.8 274 980 274.5C982.2 275 984.5 275.8 987 276.5C989.5 277.2 992 278.7 995 279C998 279.3 1001.8 278.7 1005 278.5C1008.2 278.3 1011.2 277.2 1014 278C1016.8 278.8 1019.1 280.8 1022 283C1024.9 285.2 1029 289.7 1031.5 291.3C1034 292.9 1036.3 292.4 1037.3 292.6" stroke="#ff9ee8"/>
<path d="M630 72.6C631.7 71.8 636.7 69.3 640 67.5C643.3 65.7 646.7 63.8 650 62C653.3 60.2 657.4 57.5 659.7 56.8C662 56.1 662.3 55.8 664 58C665.7 60.2 667.7 64.7 670 70C672.3 75.3 675.2 84.8 678 90C680.8 95.2 684.4 100.1 686.7 101.1C689 102.1 690.1 98.1 692 96C693.9 93.9 695.8 90.3 698 88.5C700.2 86.7 702.7 86 705 85C707.3 84 709.9 82.4 711.7 82.3C713.5 82.2 714.3 81.9 716 84.5C717.7 87.1 719.5 92.1 722 98C724.5 103.9 728.3 111.3 731 120C733.7 128.7 735.7 140.3 738 150C740.3 159.7 742.8 171.5 745 178C747.2 184.5 748.8 186.5 751 189C753.2 191.5 755.5 192.8 758 193.2C760.5 193.6 762.3 192.3 766 191.5C769.7 190.7 775.2 189.5 780 188.5C784.8 187.5 791.3 186.3 795 185.5C798.7 184.7 799.8 183.5 802 183.6C804.2 183.7 805.7 183.9 808 186C810.3 188.1 813.7 193 816 196C818.3 199 820.2 202.2 822 204C823.8 205.8 825.5 206.6 827 206.7C828.5 206.8 829.7 204.7 831 204.5C832.3 204.3 833.5 205.6 835 205.7C836.5 205.8 837.5 205.2 840 204.8C842.5 204.4 846 203.9 850 203C854 202.1 861 199.4 864 199.4C867 199.4 866.8 200.4 868 203C869.2 205.6 869.9 210.5 871 215C872.1 219.5 873.3 225 874.5 230C875.7 235 876.6 241.5 878 245C879.4 248.5 881 250.7 883 251.2C885 251.7 887.2 249.9 890 248C892.8 246.1 897.2 242 900 240C902.8 238 904.7 236.4 907 236.2C909.3 236 911 237.2 914 239C917 240.8 920.8 244.7 925 247C929.2 249.3 934.8 252.3 939 253C943.2 253.7 946.5 251.6 950 251C953.5 250.4 957.3 249.1 960 249.3C962.7 249.5 963.5 249.9 966 252C968.5 254.1 971.7 258.8 975 262C978.3 265.2 983.3 270.1 986 271.4C988.7 272.6 989.2 269.5 991 269.5C992.8 269.5 994.7 271.2 997 271.4C999.3 271.6 1002.2 270.6 1005 270.5C1007.8 270.4 1011.2 270.1 1014 270.5C1016.8 270.9 1018.8 271.3 1022 273C1025.2 274.7 1031 279.2 1033.5 280.5C1036 281.8 1036.7 280.5 1037.3 280.5" stroke="#0a6a1e"/>
<path d="M630 60.5C631.7 59.9 636.7 58.6 640 57C643.3 55.4 646.6 52.8 650 51C653.4 49.2 657.9 46.7 660.6 46.2C663.3 45.7 664.1 46 666 48C667.9 50 669.7 53.5 672 58C674.3 62.5 677.5 70.6 680 75C682.5 79.4 684.9 83.4 686.7 84.2C688.5 85 689.5 82.7 691 80C692.5 77.3 694.2 70.8 696 68C697.8 65.2 699.4 64.2 702 63C704.6 61.8 709.2 60.5 711.7 60.5C714.2 60.5 715 60.4 717 63C719 65.6 721.5 70.7 724 76C726.5 81.3 729.2 88.7 732 95C734.8 101.3 738.6 109 740.6 114C742.6 119 742.8 121 744 125C745.2 129 746.7 134.8 748 138C749.3 141.2 750.7 142.5 752 144C753.3 145.5 753.8 146.4 756 147C758.2 147.6 761 147.6 765 147.5C769 147.4 775 146.8 780 146.5C785 146.2 791.3 145.8 795 145.5C798.7 145.2 799.8 144.8 802 145C804.2 145.2 805.7 145.3 808 147C810.3 148.7 813.7 152.7 816 155C818.3 157.3 820.2 159.6 822 161C823.8 162.4 825.5 163.2 827 163.4C828.5 163.7 829.7 162.5 831 162.5C832.3 162.5 833.5 163.3 835 163.4C836.5 163.5 837.5 163.2 840 162.8C842.5 162.4 846 161.7 850 161C854 160.3 860.9 158.6 864 158.5C867.1 158.4 867.2 157.8 868.7 160.5C870.2 163.2 871.6 169.6 873 175C874.4 180.4 875.7 188.3 877 193C878.3 197.7 879.8 200.9 881 202.9C882.2 204.9 882.5 205 884 204.8C885.5 204.7 887.3 203.5 890 202C892.7 200.5 897 197.6 900 196C903 194.4 905.5 192.3 908 192.3C910.5 192.3 912.2 194.4 915 196C917.8 197.6 920.3 199.7 925 202C929.7 204.3 938.5 208.5 943 209.6C947.5 210.7 948.8 208.8 952 208.5C955.2 208.2 959 207.3 962 207.7C965 208.1 967.3 209.6 970 211C972.7 212.4 975.5 214.7 978 216C980.5 217.3 982.7 218.6 985 219C987.3 219.4 989.4 218.4 992 218.2C994.6 218 997.4 218.4 1000.7 218C1004 217.6 1008.8 215.5 1012 216C1015.2 216.5 1017.4 218.7 1020 221C1022.6 223.3 1024.8 227.5 1027.7 230C1030.6 232.5 1035.7 234.8 1037.3 235.8" stroke="#bd003f"/>
<path d="M630 63C631.7 62.2 636.7 60.2 640 58.5C643.3 56.8 646.7 54.7 650 53C653.3 51.3 657.2 49 659.7 48.5C662.2 48 663 48.1 665 50C667 51.9 669.5 56.2 672 60C674.5 63.8 677.5 69.6 680 73C682.5 76.4 684.9 79.5 686.7 80.3C688.5 81.1 689.3 79.5 691 78C692.7 76.5 694.8 72.7 697 71C699.2 69.3 701.4 68.8 704 68C706.6 67.2 710.4 65.7 712.7 65.9C715 66.1 716 66 718 69C720 72 722.5 78.2 725 84C727.5 89.8 730.4 98 733 104C735.6 110 738.6 114 740.6 120C742.6 126 743.6 133.7 745 140C746.4 146.3 747.8 153.7 749 158C750.2 162.3 750.8 163.7 752 166C753.2 168.3 754.3 170.9 756 172C757.7 173.1 759.7 172.8 762 172.5C764.3 172.2 766.2 171.1 770 170C773.8 168.9 780.5 167.2 785 166C789.5 164.8 793.8 163.4 797 162.5C800.2 161.6 801.8 160.4 804 160.5C806.2 160.6 807.7 161.4 810 163C812.3 164.6 815.7 167.9 818 170C820.3 172.1 822.2 174.2 824 175.5C825.8 176.8 827.5 177.6 829 177.8C830.5 178 832 176.7 833 176.5C834 176.3 833.8 176.8 835 176.8C836.2 176.9 837.5 177.3 840 176.8C842.5 176.3 846 175.2 850 174C854 172.8 861 169.9 864 169.7C867 169.5 866.7 169.6 868 173C869.3 176.4 870.7 183.5 872 190C873.3 196.5 874.8 206.2 876 212C877.2 217.8 877.8 222 879 225C880.2 228 881.7 229.3 883 230C884.3 230.7 885 230.8 887 229C889 227.2 891.8 222.2 895 219C898.2 215.8 903.2 210.6 906 209.6C908.8 208.6 909.7 211.3 912 213C914.3 214.7 917 217.8 920 220C923 222.2 926.8 224.3 930 226C933.2 227.7 936.3 229.4 939 230C941.7 230.6 943.7 230 946 229.5C948.3 229 950.7 227.8 953 227C955.3 226.2 958 225 960 225C962 225 963.7 226.2 965 227C966.3 227.8 966.3 228.2 968 230C969.7 231.8 972.8 235.5 975 238C977.2 240.5 979.2 243.3 981 245C982.8 246.7 984.3 248.1 986 248.3C987.7 248.5 989.2 246.4 991 246.4C992.8 246.4 994.7 248.1 997 248.3C999.3 248.5 1002.2 247.7 1005 247.5C1007.8 247.3 1011.2 246.7 1014 247.3C1016.8 247.9 1019.1 248.9 1022 251C1024.9 253.1 1029 258.1 1031.5 259.9C1034 261.7 1036.3 261.5 1037.3 261.8" stroke="#ff12b4"/>
</g>
<rect x="1143.8" y="17" width="414.6" height="318.7" fill="#fff" stroke="#3a3a3a" stroke-width="1.25"/>
<path d="M1143.8 335.7v-4M1143.8 17v4" stroke="#3a3a3a" stroke-width="1" fill="none"/>
<text x="1143.8" y="359.9" font-family="'Liberation Sans', sans-serif" font-size="17.8" fill="#262626" text-anchor="middle">1000</text>
<path d="M1281.4 335.7v-4M1281.4 17v4" stroke="#3a3a3a" stroke-width="1" fill="none"/>
<text x="1281.4" y="359.9" font-family="'Liberation Sans', sans-serif" font-size="17.8" fill="#262626" text-anchor="middle">1500</text>
<path d="M1420 335.7v-4M1420 17v4" stroke="#3a3a3a" stroke-width="1" fill="none"/>
<text x="1420" y="359.9" font-family="'Liberation Sans', sans-serif" font-size="17.8" fill="#262626" text-anchor="middle">2000</text>
<path d="M1558.4 335.7v-4M1558.4 17v4" stroke="#3a3a3a" stroke-width="1" fill="none"/>
<text x="1558.4" y="359.9" font-family="'Liberation Sans', sans-serif" font-size="17.8" fill="#262626" text-anchor="middle">2500</text>
<path d="M1143.8 335.9h4M1558.4 335.9h-4" stroke="#3a3a3a" stroke-width="1" fill="none"/>
<text x="1138.8" y="343.1" font-family="'Liberation Sans', sans-serif" font-size="17.8" fill="#262626" text-anchor="end">-3</text>
<path d="M1143.8 272.1h4M1558.4 272.1h-4" stroke="#3a3a3a" stroke-width="1" fill="none"/>
<text x="1138.8" y="279.3" font-family="'Liberation Sans', sans-serif" font-size="17.8" fill="#262626" text-anchor="end">-2</text>
<path d="M1143.8 208.3h4M1558.4 208.3h-4" stroke="#3a3a3a" stroke-width="1" fill="none"/>
<text x="1138.8" y="215.5" font-family="'Liberation Sans', sans-serif" font-size="17.8" fill="#262626" text-anchor="end">-1</text>
<path d="M1143.8 144.5h4M1558.4 144.5h-4" stroke="#3a3a3a" stroke-width="1" fill="none"/>
<text x="1138.8" y="151.7" font-family="'Liberation Sans', sans-serif" font-size="17.8" fill="#262626" text-anchor="end">0</text>
<path d="M1143.8 80.7h4M1558.4 80.7h-4" stroke="#3a3a3a" stroke-width="1" fill="none"/>
<text x="1138.8" y="87.9" font-family="'Liberation Sans', sans-serif" font-size="17.8" fill="#262626" text-anchor="end">1</text>
<path d="M1143.8 16.9h4M1558.4 16.9h-4" stroke="#3a3a3a" stroke-width="1" fill="none"/>
<text x="1138.8" y="24.1" font-family="'Liberation Sans', sans-serif" font-size="17.8" fill="#262626" text-anchor="end">2</text>
<text transform="translate(1352.2 383.1) scale(1 0.94)" font-family="'Liberation Sans', sans-serif" font-size="19.8" fill="#262626" text-anchor="middle">Wavelength (nm)</text>
<text transform="translate(1110.4 174.4) rotate(-90) scale(1 0.965)" font-family="'Liberation Sans', sans-serif" font-size="19.9" fill="#262626" text-anchor="middle">Reflectance (preprocessed)</text>
<clipPath id="clip1143"><rect x="1143.8" y="17" width="415.6" height="318.7"/></clipPath>
<g clip-path="url(#clip1143)" fill="none" stroke-width="2.6" stroke-linejoin="round" stroke-linecap="round">
<path d="M1144.7 234.3C1145.3 234.8 1146.9 235.2 1148.6 237.2C1150.3 239.1 1152.8 242.9 1155 246C1157.2 249.1 1159.9 252.7 1162.1 255.5C1164.3 258.3 1166.2 261 1168 263C1169.8 265 1171.1 267.5 1172.7 267.5C1174.3 267.5 1176.2 265.8 1177.5 263.2C1178.8 260.6 1179.5 256.5 1180.5 252C1181.5 247.5 1182.2 242.9 1183.3 236.2C1184.4 229.5 1185.9 219.7 1187 212C1188.1 204.3 1188.8 197 1190 190C1191.2 183 1192.7 175.5 1194 170C1195.3 164.5 1196.8 159.7 1198 157C1199.2 154.3 1200.3 153.1 1201.5 153.6C1202.7 154.1 1203.8 153.9 1205 160C1206.2 166.1 1207.5 183.3 1208.5 190C1209.5 196.7 1209.8 195.2 1211 200C1212.2 204.8 1213.9 213.5 1216 218.9C1218.1 224.3 1221.5 228.8 1223.7 232.4C1226 236 1227.7 240.2 1229.5 240.5C1231.3 240.8 1232.7 239.5 1234.3 234.3C1235.9 229.1 1238 215.4 1239.2 209.3C1240.4 203.2 1240.9 201.2 1241.5 198C1242.1 194.8 1241.9 196.3 1243 190C1244.1 183.7 1246.1 172.5 1248 160C1249.9 147.5 1252.7 128 1254.6 115C1256.5 102 1257.8 94.5 1259.4 82C1261 69.5 1262.8 48.9 1264.2 39.7C1265.6 30.5 1266.5 30.1 1268 27C1269.5 23.9 1271.4 22.1 1272.9 21.4C1274.4 20.6 1275.6 22 1277 22.5C1278.4 23 1280.2 23.1 1281.5 24.3C1282.8 25.6 1283.3 27.6 1285 30C1286.7 32.4 1289.4 36.2 1291.6 38.7C1293.8 41.2 1295.8 42.9 1298 45C1300.2 47.1 1303 48.7 1305 51.2C1307 53.7 1308.4 56.8 1310 60C1311.6 63.2 1313.2 67.7 1314.7 70.5C1316.2 73.3 1317.7 75.5 1319 77C1320.3 78.5 1321.1 79.8 1322.4 79.8C1323.7 79.8 1325.5 77.9 1327 77C1328.5 76.1 1329.6 75.9 1331.1 74.4C1332.6 72.9 1334.1 70 1336 68C1337.9 66 1340.9 62.9 1342.6 62.4C1344.3 61.9 1344.7 63.3 1346 65C1347.3 66.7 1348.6 70.5 1350.3 72.4C1352 74.3 1354 74 1356.1 76.3C1358.2 78.6 1360.6 82.5 1363 86C1365.4 89.5 1368.6 94.2 1370.6 97.5C1372.6 100.8 1373.6 103.1 1375 106C1376.4 108.9 1377.5 111.4 1379.2 115C1381 118.6 1384 126.4 1385.5 127.6C1387 128.8 1387.1 124.1 1388 122C1388.9 119.9 1389.2 118.8 1390.8 115C1392.4 111.2 1395.6 103.9 1397.5 99.4C1399.4 94.9 1401 89.3 1402.4 88.2C1403.8 87.1 1404.6 90.8 1406 93C1407.4 95.2 1409.3 98.6 1411 101.3C1412.7 104 1414.5 106.5 1416 109C1417.5 111.5 1418.8 116 1420.1 116C1421.4 116 1422.6 111.5 1424 109C1425.4 106.5 1427 104.5 1428.4 101.3C1429.9 98.1 1431.4 94.2 1432.7 90C1434 85.8 1434.9 79.8 1436.1 76.3C1437.3 72.8 1438.7 70.9 1440 69C1441.3 67.1 1442.2 66 1443.8 64.7C1445.4 63.5 1447.5 62.3 1449.6 61.5C1451.7 60.7 1454.8 59.8 1456.3 59.9C1457.8 60 1457.8 60.9 1458.5 62C1459.2 63.1 1459 62 1460.2 66.7C1461.4 71.4 1463.4 82.3 1465.4 90C1467.4 97.7 1470.1 104.1 1472.2 113.1C1474.3 122.1 1476.2 137 1478 144C1479.8 151 1481.4 152.1 1483 155C1484.6 157.9 1486.1 158 1487.6 161.3C1489.1 164.6 1490.6 170.2 1492 175C1493.4 179.8 1495.1 185.8 1496.1 190C1497.1 194.2 1497.4 195.2 1498.2 200C1499 204.8 1499.9 212.9 1501 218.9C1502.1 224.9 1503.5 233.1 1504.8 236.2C1506.1 239.2 1507.5 235.4 1508.7 237.2C1509.9 239 1510.9 243.8 1512 247C1513.1 250.2 1514.4 256.5 1515.4 256.5C1516.4 256.5 1517.2 250.7 1518 247C1518.8 243.3 1519.4 238.3 1520.2 234.3C1521 230.3 1522 225.9 1523 223C1524 220.1 1524.8 217.2 1526 217C1527.2 216.8 1528.7 220.2 1530 222C1531.3 223.8 1532.4 224.9 1533.7 227.6C1535 230.3 1536.4 234 1538 238C1539.6 242 1541.5 245.6 1543.3 251.7C1545.1 257.8 1547.3 266.8 1549.1 274.8C1550.9 282.9 1552.4 292.4 1553.9 300C1555.5 307.6 1557.7 317.2 1558.4 320.6" stroke="#ff0000"/>
<path d="M1144.6 113.1C1145.5 114.1 1148.1 117.1 1150 119C1151.9 120.9 1154.2 124.2 1156.2 124.7C1158.2 125.2 1159.8 123 1162 122C1164.2 121 1167.5 119.3 1169.7 118.9C1171.9 118.5 1173.4 119 1175 119.5C1176.6 120 1178.1 120 1179.3 121.8C1180.5 123.5 1181 126.3 1182 130C1183 133.7 1184.1 139.3 1185.1 144C1186.1 148.7 1187 153.5 1188 158C1189 162.5 1189.6 166.6 1190.9 170.9C1192.2 175.2 1194.2 179.6 1196 184C1197.8 188.4 1200.1 197 1201.5 197.3C1202.9 197.6 1203.5 190.1 1204.5 186C1205.5 181.9 1206.4 177.9 1207.3 172.9C1208.2 167.9 1209.2 161.2 1210 156C1210.8 150.8 1211.3 145.7 1212.1 142C1212.9 138.3 1214 135.9 1215 134C1216 132.1 1216.6 131.6 1217.9 130.5C1219.2 129.4 1221.1 128.3 1223 127.5C1224.9 126.7 1227.6 126.4 1229.4 125.6C1231.2 124.8 1232.4 123.5 1234 122.5C1235.6 121.5 1237.8 119.8 1239 119.9C1240.2 120 1240.7 121.6 1241.5 123C1242.3 124.4 1243.1 125.8 1243.9 128.5C1244.7 131.2 1245.7 135.5 1246.5 139C1247.3 142.5 1247.7 146.9 1248.7 149.7C1249.7 152.4 1251.2 155.8 1252.5 155.5C1253.8 155.2 1255.1 150.2 1256.4 147.8C1257.7 145.4 1258.6 142.2 1260.2 141.1C1261.8 140 1263.8 140.9 1266 141C1268.2 141.1 1271.2 141.2 1273.7 141.6C1276.2 142 1278.4 142.9 1281 143.5C1283.6 144.1 1286.8 145.1 1289.1 144.9C1291.4 144.7 1293.1 143.2 1295 142.5C1296.9 141.8 1298.4 140.9 1300.7 140.5C1303 140.1 1306.1 140 1309 140C1311.9 140 1315.7 140 1318 140.5C1320.3 141 1321.4 141.8 1323 143C1324.6 144.2 1326.3 145.6 1327.7 147.8C1329.1 150 1330.2 152.8 1331.5 156C1332.8 159.2 1334.2 163.4 1335.4 167.1C1336.7 170.8 1338 175.1 1339 178C1340 180.9 1340.8 183.4 1341.5 184.8C1342.2 186.2 1342.8 186.1 1343.5 186.2C1344.2 186.3 1344.8 185.9 1345.5 185.4C1346.2 184.9 1346.6 184.1 1347.5 183C1348.4 181.9 1349.8 179.2 1350.8 178.6C1351.8 178 1352.5 180.5 1353.7 179.6C1354.9 178.7 1356.6 174.9 1358 173C1359.4 171.1 1360.5 169.6 1362.3 168C1364.1 166.4 1366.8 164.9 1369 163.5C1371.2 162.1 1373.6 161.3 1375.8 159.4C1378 157.5 1380.1 154.4 1382 152C1383.9 149.6 1385.9 146.9 1387.4 144.9C1388.9 142.9 1389.9 141.3 1391 140C1392.1 138.7 1393 137.4 1394.1 137.2C1395.2 137 1396.4 138.2 1397.5 139C1398.6 139.8 1399.5 141.3 1400.9 142C1402.3 142.7 1404.1 143 1406 143.3C1407.9 143.6 1410.2 143.6 1412.4 144C1414.6 144.4 1416.8 145.4 1419 146C1421.2 146.6 1423.9 147.2 1425.9 147.8C1427.9 148.4 1429.4 149 1431 149.5C1432.6 150 1434.1 150.9 1435.6 150.7C1437.1 150.4 1438.4 148.8 1440 148C1441.6 147.2 1443.7 146.1 1445.2 145.9C1446.7 145.7 1447.7 146.5 1449 147C1450.3 147.5 1451.7 148.1 1452.9 148.8C1454.2 149.6 1455.2 150.7 1456.5 151.5C1457.8 152.3 1459 153.4 1460.6 153.6C1462.2 153.8 1464.1 153 1466 152.5C1467.9 152 1470.2 151.9 1472.2 150.7C1474.2 149.5 1476.1 147.3 1478 145.5C1479.9 143.7 1481.9 141.3 1483.7 140.1C1485.5 138.8 1487.1 138.7 1489 138C1490.9 137.3 1493.1 136.6 1495.3 136.2C1497.5 135.8 1499.8 135.8 1502 135.7C1504.2 135.5 1507.1 135.8 1508.8 135.3C1510.5 134.8 1511 133.3 1512 132.5C1513 131.7 1513.4 130.4 1514.6 130.5C1515.8 130.6 1517.4 132.2 1519 133C1520.6 133.8 1522.4 135.1 1524.2 135.3C1526 135.6 1528.1 134.8 1530 134.5C1531.9 134.2 1533.9 134 1535.7 133.4C1537.5 132.8 1539.1 131.8 1541 130.8C1542.9 129.8 1545.3 128.6 1547.3 127.6C1549.3 126.6 1551.1 125.8 1553 125C1554.9 124.2 1557.6 123.2 1558.5 122.8" stroke="#0a35e6"/>
<path d="M1144.6 110.2C1145.2 110.2 1146.7 110.1 1148 110.3C1149.3 110.5 1150.6 110.4 1152.3 111.2C1154 112 1156.1 113.5 1158 115C1159.9 116.5 1161.7 118.4 1163.9 119.9C1166.1 121.4 1168.4 122.7 1171 124C1173.6 125.3 1176.8 126.9 1179.3 127.6C1181.8 128.3 1184.2 127.4 1186 128C1187.8 128.6 1188.2 130 1190 131C1191.8 132 1194.8 132.8 1197 134C1199.2 135.2 1201.1 136.7 1203 138C1204.9 139.3 1206.4 140.8 1208.2 142C1210 143.2 1212.1 144.5 1214 145.5C1215.9 146.5 1218 147.4 1219.8 147.8C1221.6 148.2 1223.4 148 1225 148C1226.6 148 1228.1 147 1229.4 147.8C1230.7 148.6 1231.7 150.8 1233 153C1234.3 155.2 1235.8 159 1237.1 161.3C1238.4 163.6 1239.7 165.4 1241 167C1242.3 168.6 1243.6 170.7 1244.8 170.9C1246 171.1 1247 168.8 1248 168C1249 167.2 1249.7 165.3 1250.6 166.1C1251.5 166.9 1252.5 170.3 1253.5 173C1254.5 175.7 1255.5 180 1256.4 182.5C1257.3 185 1258 186.6 1259 188C1260 189.4 1261 191.4 1262.2 191.2C1263.4 191 1264.7 188.3 1266 187C1267.3 185.7 1268.1 184.6 1269.9 183.4C1271.7 182.2 1274.4 181.1 1277 180C1279.6 178.9 1282.6 177.9 1285.3 176.7C1288 175.5 1290.4 174.3 1293 173C1295.6 171.7 1298.5 170.8 1300.7 169C1302.9 167.2 1304.1 164.9 1306 162C1307.9 159.1 1310.1 155.2 1312.3 151.7C1314.5 148.2 1316.8 144.2 1319 141C1321.2 137.8 1324.2 133.7 1325.8 132.4C1327.4 131.2 1327.5 133.3 1328.5 133.5C1329.5 133.7 1330.2 134.7 1331.5 133.4C1332.8 132.2 1334.4 128.4 1336 126C1337.6 123.6 1339.7 120.6 1341.2 118.9C1342.7 117.2 1343.4 116 1345 116C1346.6 116 1349.2 117.4 1350.8 118.9C1352.4 120.4 1353.2 122.8 1354.5 125C1355.8 127.2 1357.1 130.6 1358.5 132.4C1359.9 134.2 1361.4 135 1363 136C1364.6 137 1366.1 137.6 1368.1 138.2C1370.1 138.8 1372.8 139 1375 139.3C1377.2 139.6 1379.9 138.8 1381.6 140.1C1383.3 141.4 1383.9 144.1 1385 147C1386.1 149.9 1387.2 153.2 1388.4 157.4C1389.6 161.6 1390.9 170.6 1392.2 171.9C1393.5 173.2 1395 167.8 1396.1 165.1C1397.1 162.4 1397.7 158.9 1398.5 156C1399.3 153.1 1399.8 149.6 1400.9 147.8C1402 146.1 1403.4 146.1 1405 145.5C1406.6 144.9 1408.8 144.6 1410.5 144C1412.2 143.4 1413.4 142.7 1415 142C1416.6 141.3 1418.4 139.8 1420.1 140.1C1421.8 140.4 1423.4 142.4 1425 144C1426.6 145.6 1428 147.6 1429.8 149.7C1431.6 151.8 1433.8 154.4 1436 156.5C1438.2 158.6 1441.3 161.7 1443.3 162.3C1445.3 162.9 1446.4 161.1 1448 160C1449.6 158.9 1451.2 157.4 1452.9 155.5C1454.7 153.6 1456.6 150.8 1458.5 148.5C1460.4 146.2 1462.9 143.7 1464.5 142C1466.1 140.3 1466.7 139.5 1468 138.5C1469.3 137.5 1470.5 136.4 1472.2 136.2C1473.9 136 1476.1 136.8 1478 137.5C1479.9 138.2 1482.2 138.7 1483.7 140.1C1485.2 141.5 1486 144.2 1487 146C1488 147.8 1488.5 150.7 1489.5 150.7C1490.5 150.7 1491.7 148.1 1493 146C1494.3 143.9 1495.9 141 1497.2 138.2C1498.5 135.4 1499.7 131.9 1501 129C1502.3 126.1 1503.9 121.6 1504.9 120.8C1505.9 120 1506.2 122.2 1506.8 124C1507.4 125.8 1507.8 130 1508.8 131.4C1509.8 132.8 1511.4 132 1513 132.2C1514.6 132.4 1516.6 131.9 1518.4 132.4C1520.2 132.9 1522.1 134 1524 135C1525.9 136 1527.7 137.9 1530 138.2C1532.3 138.4 1535.1 137.3 1538 136.5C1540.9 135.7 1544.8 134.7 1547.3 133.4C1549.8 132.1 1551.1 130.1 1553 128.5C1554.9 126.9 1557.6 124.5 1558.5 123.7" stroke="#ff9ee8"/>
<path d="M1144.6 131.4C1145.3 130.7 1147.4 128.3 1149 127C1150.6 125.7 1152.3 124.6 1154.3 123.7C1156.3 122.8 1158.4 122.1 1161 121.5C1163.6 120.9 1167.2 119.8 1169.7 119.9C1172.2 120 1173.8 121 1176 122C1178.2 123 1181.2 125 1183.2 125.6C1185.2 126.2 1186.4 125.7 1188 125.5C1189.6 125.3 1191.3 125.1 1192.8 124.7C1194.3 124.3 1195.5 123.5 1197 123C1198.5 122.5 1200.1 121.3 1201.5 121.8C1202.9 122.3 1204.1 124.2 1205.5 126C1206.9 127.8 1208.7 130.9 1210.1 132.4C1211.5 133.9 1212.7 134.4 1214 135C1215.3 135.6 1216.5 136.2 1217.9 136.2C1219.3 136.2 1220.9 135.5 1222.5 135C1224.1 134.5 1226.2 133.5 1227.5 133.4C1228.8 133.3 1229.5 133.8 1230.5 134.3C1231.5 134.8 1232.2 135.1 1233.3 136.2C1234.4 137.3 1235.7 139.2 1237 141C1238.3 142.8 1239.5 146.1 1241 146.8C1242.5 147.6 1244.4 146.1 1246 145.5C1247.6 144.9 1249.2 142.8 1250.6 143C1252 143.2 1253.2 145.1 1254.5 146.5C1255.8 147.9 1257 149.9 1258.3 151.7C1259.5 153.5 1260.7 155.7 1262 157.5C1263.3 159.3 1264.4 161.3 1266 162.3C1267.6 163.3 1269.6 163.3 1271.5 163.5C1273.4 163.7 1275.3 163.4 1277.6 163.2C1279.8 162.9 1282.4 162.3 1285 162C1287.6 161.7 1290.5 161.2 1293 161.3C1295.5 161.4 1297.4 162 1300 162.5C1302.6 163 1305.6 163.8 1308.4 164.2C1311.2 164.6 1314.1 164.9 1317 165.2C1319.9 165.5 1323.4 166.5 1325.8 166.1C1328.2 165.7 1329.6 164.3 1331.5 163C1333.4 161.7 1335.7 159.2 1337.3 158.4C1338.9 157.6 1339.7 157.8 1341 158C1342.3 158.2 1342.8 159.3 1345 159.4C1347.2 159.5 1350.8 159 1354 158.8C1357.2 158.6 1360.5 158.5 1364.3 158.4C1368.1 158.3 1372.8 158.2 1377 158C1381.2 157.8 1386.6 158.2 1389.3 157.4C1392 156.6 1391.7 154.6 1393 153C1394.3 151.4 1395.4 148.7 1397 147.8C1398.6 146.9 1400.6 147.5 1402.5 147.5C1404.4 147.5 1406.7 147.8 1408.6 147.8C1410.5 147.8 1412.1 147.5 1414 147.3C1415.9 147.1 1418.1 146.5 1420.1 146.8C1422.1 147.1 1424.1 148.2 1426 149C1427.9 149.8 1429.7 151.1 1431.7 151.7C1433.7 152.3 1435.8 152.4 1438 152.6C1440.2 152.8 1442.7 152.8 1445.2 152.6C1447.7 152.4 1450.4 152 1453 151.5C1455.6 151 1458.1 150.6 1460.6 149.7C1463.1 148.8 1465.4 147.3 1468 146C1470.6 144.7 1473.4 143 1476 142C1478.6 141 1480.9 140.5 1483.5 140C1486.1 139.5 1489.5 139.6 1491.4 139.1C1493.3 138.6 1493.7 137.8 1495 137C1496.3 136.2 1497.3 135.1 1499.1 134.3C1500.8 133.5 1503.2 132.6 1505.5 132C1507.8 131.4 1510.5 130.4 1512.6 130.5C1514.7 130.6 1516.1 132 1518 132.8C1519.9 133.6 1522.2 135.1 1524.2 135.3C1526.2 135.5 1528.1 134.7 1530 134C1531.9 133.3 1533.9 132.7 1535.7 131.4C1537.5 130.1 1539.1 128.1 1541 126C1542.9 123.9 1545.3 121.2 1547.3 118.9C1549.3 116.6 1551.1 114.2 1553 112C1554.9 109.8 1557.6 106.5 1558.5 105.4" stroke="#0a6a1e"/>
<path d="M1144.6 156.5C1146.2 155.7 1150.8 153.3 1154 151.5C1157.2 149.7 1160.8 147.7 1163.9 145.9C1167 144.1 1169.6 142.6 1172.5 140.8C1175.4 139 1179 135.8 1181.2 135.3C1183.5 134.8 1184.4 136.9 1186 138C1187.6 139.1 1189.3 140.7 1190.9 142C1192.5 143.3 1193.9 144.9 1195.5 146C1197.1 147.1 1199.2 148.8 1200.5 148.8C1201.8 148.8 1202.5 147.4 1203.5 146C1204.5 144.6 1205.2 142.4 1206.3 140.1C1207.4 137.8 1208.7 134.4 1210 132C1211.3 129.6 1212.4 126.8 1214 125.6C1215.6 124.4 1217.6 125 1219.5 125C1221.4 125 1223.6 125.8 1225.6 125.6C1227.6 125.3 1229.6 124.3 1231.5 123.5C1233.4 122.7 1235.3 121 1237.1 120.8C1238.8 120.6 1240.4 121.7 1242 122.5C1243.6 123.3 1245.2 125 1246.8 125.6C1248.4 126.1 1249.9 125.6 1251.5 125.8C1253.1 126 1254.8 125.8 1256.4 126.6C1258 127.4 1259.4 128.9 1261 130.5C1262.6 132.1 1264.2 134.4 1266 136.2C1267.8 138 1269.6 139.9 1271.5 141.5C1273.4 143.1 1275 144.7 1277.6 145.9C1280.2 147.1 1283.8 148 1287 148.8C1290.2 149.6 1293.7 149.8 1296.9 150.7C1300.2 151.6 1303.3 153 1306.5 154.3C1309.7 155.6 1313.5 157.7 1316.1 158.4C1318.7 159.2 1320.1 158.8 1322 158.8C1323.9 158.8 1325.5 159 1327.7 158.4C1330 157.8 1332.9 156.3 1335.5 155C1338.1 153.7 1341.5 151.4 1343.1 150.7C1344.7 150 1344 150.4 1345 150.7C1346 151 1347.3 152.5 1348.9 152.6C1350.5 152.7 1352.6 151.8 1354.5 151.5C1356.4 151.2 1357.8 150.9 1360.4 150.7C1363 150.5 1366.8 150.4 1370 150.2C1373.2 150 1377.3 150.3 1379.7 149.7C1382.1 149.1 1382.9 147.8 1384.5 146.5C1386.1 145.2 1388 142.2 1389.3 142C1390.5 141.8 1391 143.7 1392 145C1393 146.3 1393.8 148.2 1395.1 149.7C1396.3 151.2 1397.9 152.7 1399.5 154C1401.1 155.3 1402.8 156.7 1404.7 157.4C1406.6 158.1 1408.8 158 1411 158.2C1413.2 158.4 1416.2 158.7 1418.2 158.4C1420.2 158.1 1421.4 157.3 1423 156.5C1424.6 155.7 1426 154 1427.9 153.6C1429.8 153.2 1432.3 153.7 1434.5 154C1436.7 154.3 1438.5 154.5 1441.3 155.5C1444 156.5 1447.8 158.4 1451 160C1454.2 161.6 1458 164.2 1460.6 165.1C1463.2 166 1464.6 165.6 1466.5 165.6C1468.4 165.6 1470.5 165.7 1472.2 165.1C1474 164.5 1475.4 163.3 1477 162C1478.6 160.7 1480.2 159.6 1481.8 157.4C1483.4 155.2 1484.9 151.9 1486.5 149C1488.1 146.1 1489.5 142.9 1491.4 140.1C1493.3 137.3 1495.8 134.4 1498 132C1500.2 129.6 1502.9 127.3 1504.9 125.6C1506.9 123.9 1508.2 123.1 1510 122C1511.8 120.9 1514 119.1 1515.5 118.9C1517 118.7 1517.9 120.3 1519 121C1520.1 121.7 1520.6 122.6 1522.3 122.8C1524 123 1526.8 122.5 1529 122.3C1531.2 122.1 1533.6 121.5 1535.7 121.8C1537.8 122.1 1539.6 123.3 1541.5 124.3C1543.4 125.3 1545.4 126.5 1547.3 127.6C1549.2 128.7 1551.1 129.9 1553 131C1554.9 132.1 1557.6 133.8 1558.5 134.3" stroke="#bd003f"/>
<path d="M1144.6 156.5C1145.5 155.5 1148.1 152.4 1150 150.5C1151.9 148.6 1154 146.1 1156.2 144.9C1158.4 143.7 1160.8 143.7 1163 143.2C1165.2 142.7 1167.8 142.3 1169.7 142C1171.6 141.7 1172.9 141.5 1174.5 141.2C1176.1 140.9 1177.7 141.5 1179.3 140.1C1180.9 138.7 1182.4 135.7 1184 133C1185.6 130.3 1187.7 125.3 1189 123.7C1190.3 122.1 1191 123.3 1192 123.3C1193 123.3 1193.7 124.6 1194.8 123.7C1195.9 122.8 1197.2 119.9 1198.5 118C1199.8 116.1 1201.3 112.4 1202.4 112.2C1203.5 112 1204.3 114.9 1205.3 117C1206.3 119.1 1207.1 122.6 1208.2 124.7C1209.3 126.8 1210.7 128.4 1212 129.8C1213.3 131.2 1214 132.8 1215.9 133.4C1217.8 134 1220.9 133.6 1223.5 133.6C1226.1 133.6 1229.2 133.2 1231.3 133.4C1233.4 133.6 1234.4 134.4 1236 135C1237.6 135.6 1239.3 137.5 1241 137.2C1242.7 136.9 1244.4 134.4 1246 133C1247.6 131.6 1249.2 127.7 1250.6 128.5C1252 129.3 1253.2 134.5 1254.5 138C1255.8 141.5 1257 146 1258.3 149.7C1259.5 153.4 1260.7 156.8 1262 160C1263.3 163.2 1264.8 167.1 1266 169C1267.2 170.9 1268 170.8 1269 171.5C1270 172.2 1270.5 172.8 1271.8 172.9C1273 173 1274.9 172.3 1276.5 171.8C1278.1 171.3 1279.2 170.9 1281.4 170C1283.7 169.1 1287.1 167.6 1290 166.5C1292.9 165.4 1295.5 164.2 1298.8 163.2C1302 162.2 1306 161.3 1309.5 160.3C1313 159.3 1317.4 158 1320 157.4C1322.6 156.8 1323.4 156.8 1325 156.5C1326.6 156.2 1328 156.7 1329.6 155.5C1331.2 154.3 1332.9 151.6 1334.5 149.5C1336.1 147.4 1338 144.2 1339.2 143C1340.5 141.8 1341 142.4 1342 142.2C1343 142 1343.8 142.3 1345 142C1346.2 141.7 1347.9 141 1349.5 140.5C1351.1 140 1352.5 139.7 1354.6 139.1C1356.7 138.5 1359.4 137.8 1362 137.2C1364.6 136.6 1367.3 136 1370 135.3C1372.7 134.6 1375.4 133.8 1378 133C1380.6 132.2 1383.8 130.4 1385.5 130.5C1387.2 130.6 1387.3 132.2 1388.3 133.5C1389.2 134.8 1390.1 135.9 1391.2 138.2C1392.3 140.5 1393.7 144.4 1395 147.5C1396.3 150.6 1397.7 154.9 1398.9 156.5C1400.2 158.1 1401.2 157.2 1402.5 157.2C1403.8 157.2 1404.9 157.5 1406.7 156.5C1408.5 155.5 1411.3 152.8 1413.5 151C1415.7 149.2 1417.9 146.3 1420.1 145.9C1422.3 145.5 1424.2 147.5 1426.5 148.5C1428.8 149.5 1431.2 150.7 1433.6 151.7C1436 152.7 1438.4 153.7 1441 154.5C1443.6 155.3 1446.7 156.5 1449 156.5C1451.3 156.5 1453.1 155.3 1455 154.5C1456.9 153.7 1458 153.6 1460.6 151.7C1463.2 149.8 1467.3 145.7 1470.5 143C1473.7 140.3 1477.9 136.5 1479.9 135.3C1482 134.1 1481.8 135.7 1482.8 136C1483.8 136.3 1484.6 136.5 1485.7 137.2C1486.8 137.9 1488.2 139.2 1489.5 140C1490.8 140.8 1492.1 141.9 1493.4 142C1494.7 142.1 1496 141 1497.3 140.5C1498.6 140 1500 139 1501.1 139.1C1502.2 139.2 1503 140.3 1504 140.8C1505 141.3 1505.8 142.4 1506.8 142C1507.8 141.6 1508.8 139.6 1509.8 138.5C1510.8 137.4 1510.9 135.3 1512.6 135.3C1514.3 135.3 1517.4 137.5 1520 138.5C1522.6 139.5 1525 141 1528 141.1C1531 141.2 1534.8 139.8 1538 139C1541.2 138.2 1544.8 137.3 1547.3 136.2C1549.8 135.1 1551.1 133.8 1553 132.5C1554.9 131.2 1557.6 129.2 1558.5 128.5" stroke="#ff12b4"/>
</g>
<line x1="711.8" y1="411.3" x2="759.9" y2="411.3" stroke="#ff0000" stroke-width="2.6"/>
<text x="771.4" y="415" font-family="'Liberation Serif', serif" font-size="19" fill="#1c1c1c" stroke="#1c1c1c" stroke-width="0.28" letter-spacing="0.95">Stone</text>
<line x1="711.8" y1="433.6" x2="759.9" y2="433.6" stroke="#0a35e6" stroke-width="2.6"/>
<text x="771.4" y="437.3" font-family="'Liberation Serif', serif" font-size="19" fill="#1c1c1c" stroke="#1c1c1c" stroke-width="0.28" letter-spacing="0.95">Edible pistacchio</text>
<line x1="711.8" y1="457.3" x2="759.9" y2="457.3" stroke="#ff9ee8" stroke-width="2.6"/>
<text x="771.4" y="461" font-family="'Liberation Serif', serif" font-size="19" fill="#1c1c1c" stroke="#1c1c1c" stroke-width="0.28" letter-spacing="0.95">Pistachio Shell</text>
<line x1="711.8" y1="481.7" x2="759.9" y2="481.7" stroke="#0a6a1e" stroke-width="2.6"/>
<text x="771.4" y="485.4" font-family="'Liberation Serif', serif" font-size="19" fill="#1c1c1c" stroke="#1c1c1c" stroke-width="0.28" letter-spacing="0.95">Pistachio husk</text>
<line x1="711.8" y1="505.8" x2="759.9" y2="505.8" stroke="#bd003f" stroke-width="2.6"/>
<text x="771.4" y="509.5" font-family="'Liberation Serif', serif" font-size="19" fill="#1c1c1c" stroke="#1c1c1c" stroke-width="0.28" letter-spacing="0.95">Inedible pistachio</text>
<line x1="711.8" y1="530.3" x2="759.9" y2="530.3" stroke="#ff12b4" stroke-width="2.6"/>
<text x="766.2" y="534" font-family="'Liberation Serif', serif" font-size="19" fill="#1c1c1c" stroke="#1c1c1c" stroke-width="0.28" letter-spacing="0.95">Twig</text>
<line x1="1234.4" y1="407.6" x2="1282.5" y2="407.6" stroke="#ff0000" stroke-width="2.6"/>
<text x="1294.3" y="411.3" font-family="'Liberation Serif', serif" font-size="19" fill="#1c1c1c" stroke="#1c1c1c" stroke-width="0.28" letter-spacing="0.95">Stone</text>
<line x1="1234.4" y1="429.1" x2="1282.5" y2="429.1" stroke="#0a35e6" stroke-width="2.6"/>
<text x="1294.3" y="432.8" font-family="'Liberation Serif', serif" font-size="19" fill="#1c1c1c" stroke="#1c1c1c" stroke-width="0.28" letter-spacing="0.95">Edible pistacchio</text>
<line x1="1234.4" y1="453.3" x2="1282.5" y2="453.3" stroke="#ff9ee8" stroke-width="2.6"/>
<text x="1294.3" y="457" font-family="'Liberation Serif', serif" font-size="19" fill="#1c1c1c" stroke="#1c1c1c" stroke-width="0.28" letter-spacing="0.95">Pistachio Shell</text>
<line x1="1234.4" y1="478.5" x2="1282.5" y2="478.5" stroke="#0a6a1e" stroke-width="2.6"/>
<text x="1294.3" y="482.2" font-family="'Liberation Serif', serif" font-size="19" fill="#1c1c1c" stroke="#1c1c1c" stroke-width="0.28" letter-spacing="0.95">Pistachio husk</text>
<line x1="1234.4" y1="502.2" x2="1282.5" y2="502.2" stroke="#bd003f" stroke-width="2.6"/>
<text x="1294.3" y="505.9" font-family="'Liberation Serif', serif" font-size="19" fill="#1c1c1c" stroke="#1c1c1c" stroke-width="0.28" letter-spacing="0.95">Inedible pistachio</text>
<line x1="1234.4" y1="526.3" x2="1282.5" y2="526.3" stroke="#ff12b4" stroke-width="2.6"/>
<text x="1288.8" y="530" font-family="'Liberation Serif', serif" font-size="19" fill="#1c1c1c" stroke="#1c1c1c" stroke-width="0.28" letter-spacing="0.95">Twig</text>
<g font-family="'Liberation Sans', sans-serif" font-weight="bold" fill="#000">
<text x="816.6" y="561.6" font-size="25" text-anchor="middle">a</text>
<text x="1339.3" y="561.6" font-size="25" text-anchor="middle">b</text>
</g>
<g font-family="'Liberation Sans', 'Noto Sans CJK SC', sans-serif" font-size="24.5" fill="#8a8a8a">
<text x="145" y="589.9">图</text>
<text x="236" y="589.9">b</text>
<text x="351" y="589.9">图</text>
<text x="443" y="589.9">训练集</text>
<text x="521" y="589.9">和验证集</text>
<text x="760" y="589.9">b</text>
<text x="835" y="589.9">光谱响应</text>
<text x="1040" y="589.9">使用前置的</text>
<text x="1200" y="589.9">和</text>
<text x="1246" y="589.9">预处理</text>
<text x="1357" y="589.9">反射光谱图</text>
</g>
</svg>
</body></html>
